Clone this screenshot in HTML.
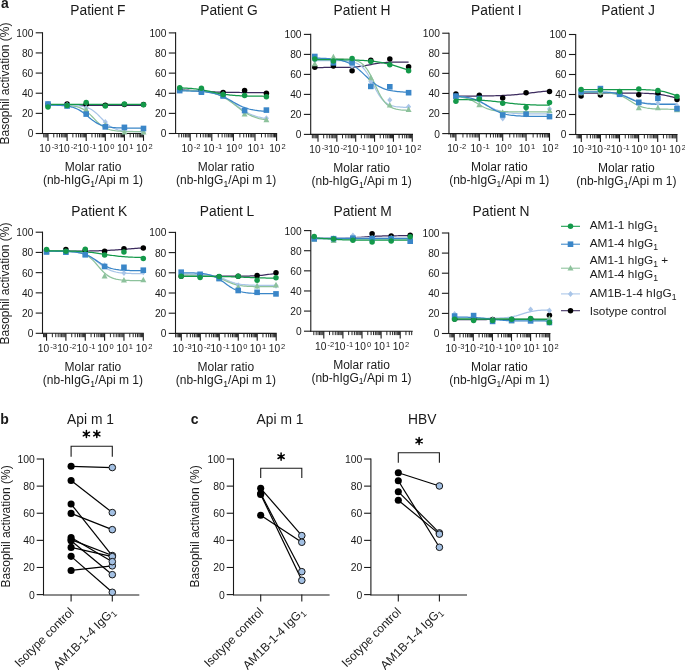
<!DOCTYPE html>
<html><head><meta charset="utf-8"><style>
html,body{margin:0;padding:0;background:#fff;width:685px;height:670px;overflow:hidden;position:relative}
</style></head><body>
<svg width="685" height="670" viewBox="0 0 685 670" font-family='"Liberation Sans", sans-serif' fill="#1a1a1a" style="position:absolute;left:0;top:0;will-change:transform">
<rect width="685" height="670" fill="#ffffff"/>
<text x="0.90" y="7.90" font-size="14" text-anchor="start" font-weight="bold" >a</text>
<line x1="42.50" y1="32.25" x2="42.50" y2="134.05" stroke="#1a1a1a" stroke-width="1.1" />
<line x1="35.70" y1="133.50" x2="42.50" y2="133.50" stroke="#1a1a1a" stroke-width="1.1" />
<text x="33.30" y="137.45" font-size="10.2" text-anchor="end" font-weight="normal" >0</text>
<line x1="35.70" y1="113.36" x2="42.50" y2="113.36" stroke="#1a1a1a" stroke-width="1.1" />
<text x="33.30" y="117.31" font-size="10.2" text-anchor="end" font-weight="normal" >20</text>
<line x1="35.70" y1="93.22" x2="42.50" y2="93.22" stroke="#1a1a1a" stroke-width="1.1" />
<text x="33.30" y="97.17" font-size="10.2" text-anchor="end" font-weight="normal" >40</text>
<line x1="35.70" y1="73.08" x2="42.50" y2="73.08" stroke="#1a1a1a" stroke-width="1.1" />
<text x="33.30" y="77.03" font-size="10.2" text-anchor="end" font-weight="normal" >60</text>
<line x1="35.70" y1="52.94" x2="42.50" y2="52.94" stroke="#1a1a1a" stroke-width="1.1" />
<text x="33.30" y="56.89" font-size="10.2" text-anchor="end" font-weight="normal" >80</text>
<line x1="35.70" y1="32.80" x2="42.50" y2="32.80" stroke="#1a1a1a" stroke-width="1.1" />
<text x="33.30" y="36.75" font-size="10.2" text-anchor="end" font-weight="normal" >100</text>
<line x1="41.95" y1="133.50" x2="144.00" y2="133.50" stroke="#1a1a1a" stroke-width="1.1" />
<line x1="43.76" y1="133.50" x2="43.76" y2="137.40" stroke="#1a1a1a" stroke-width="0.95" />
<line x1="45.04" y1="133.50" x2="45.04" y2="137.40" stroke="#1a1a1a" stroke-width="0.95" />
<line x1="46.15" y1="133.50" x2="46.15" y2="137.40" stroke="#1a1a1a" stroke-width="0.95" />
<line x1="47.13" y1="133.50" x2="47.13" y2="137.40" stroke="#1a1a1a" stroke-width="0.95" />
<line x1="48.00" y1="133.50" x2="48.00" y2="140.90" stroke="#1a1a1a" stroke-width="1.1" />
<line x1="53.75" y1="133.50" x2="53.75" y2="137.40" stroke="#1a1a1a" stroke-width="0.95" />
<line x1="57.11" y1="133.50" x2="57.11" y2="137.40" stroke="#1a1a1a" stroke-width="0.95" />
<line x1="59.50" y1="133.50" x2="59.50" y2="137.40" stroke="#1a1a1a" stroke-width="0.95" />
<line x1="61.35" y1="133.50" x2="61.35" y2="137.40" stroke="#1a1a1a" stroke-width="0.95" />
<line x1="62.86" y1="133.50" x2="62.86" y2="137.40" stroke="#1a1a1a" stroke-width="0.95" />
<line x1="64.14" y1="133.50" x2="64.14" y2="137.40" stroke="#1a1a1a" stroke-width="0.95" />
<line x1="65.25" y1="133.50" x2="65.25" y2="137.40" stroke="#1a1a1a" stroke-width="0.95" />
<line x1="66.23" y1="133.50" x2="66.23" y2="137.40" stroke="#1a1a1a" stroke-width="0.95" />
<line x1="67.10" y1="133.50" x2="67.10" y2="140.90" stroke="#1a1a1a" stroke-width="1.1" />
<line x1="72.85" y1="133.50" x2="72.85" y2="137.40" stroke="#1a1a1a" stroke-width="0.95" />
<line x1="76.21" y1="133.50" x2="76.21" y2="137.40" stroke="#1a1a1a" stroke-width="0.95" />
<line x1="78.60" y1="133.50" x2="78.60" y2="137.40" stroke="#1a1a1a" stroke-width="0.95" />
<line x1="80.45" y1="133.50" x2="80.45" y2="137.40" stroke="#1a1a1a" stroke-width="0.95" />
<line x1="81.96" y1="133.50" x2="81.96" y2="137.40" stroke="#1a1a1a" stroke-width="0.95" />
<line x1="83.24" y1="133.50" x2="83.24" y2="137.40" stroke="#1a1a1a" stroke-width="0.95" />
<line x1="84.35" y1="133.50" x2="84.35" y2="137.40" stroke="#1a1a1a" stroke-width="0.95" />
<line x1="85.33" y1="133.50" x2="85.33" y2="137.40" stroke="#1a1a1a" stroke-width="0.95" />
<line x1="86.20" y1="133.50" x2="86.20" y2="140.90" stroke="#1a1a1a" stroke-width="1.1" />
<line x1="91.95" y1="133.50" x2="91.95" y2="137.40" stroke="#1a1a1a" stroke-width="0.95" />
<line x1="95.31" y1="133.50" x2="95.31" y2="137.40" stroke="#1a1a1a" stroke-width="0.95" />
<line x1="97.70" y1="133.50" x2="97.70" y2="137.40" stroke="#1a1a1a" stroke-width="0.95" />
<line x1="99.55" y1="133.50" x2="99.55" y2="137.40" stroke="#1a1a1a" stroke-width="0.95" />
<line x1="101.06" y1="133.50" x2="101.06" y2="137.40" stroke="#1a1a1a" stroke-width="0.95" />
<line x1="102.34" y1="133.50" x2="102.34" y2="137.40" stroke="#1a1a1a" stroke-width="0.95" />
<line x1="103.45" y1="133.50" x2="103.45" y2="137.40" stroke="#1a1a1a" stroke-width="0.95" />
<line x1="104.43" y1="133.50" x2="104.43" y2="137.40" stroke="#1a1a1a" stroke-width="0.95" />
<line x1="105.30" y1="133.50" x2="105.30" y2="140.90" stroke="#1a1a1a" stroke-width="1.1" />
<line x1="111.05" y1="133.50" x2="111.05" y2="137.40" stroke="#1a1a1a" stroke-width="0.95" />
<line x1="114.41" y1="133.50" x2="114.41" y2="137.40" stroke="#1a1a1a" stroke-width="0.95" />
<line x1="116.80" y1="133.50" x2="116.80" y2="137.40" stroke="#1a1a1a" stroke-width="0.95" />
<line x1="118.65" y1="133.50" x2="118.65" y2="137.40" stroke="#1a1a1a" stroke-width="0.95" />
<line x1="120.16" y1="133.50" x2="120.16" y2="137.40" stroke="#1a1a1a" stroke-width="0.95" />
<line x1="121.44" y1="133.50" x2="121.44" y2="137.40" stroke="#1a1a1a" stroke-width="0.95" />
<line x1="122.55" y1="133.50" x2="122.55" y2="137.40" stroke="#1a1a1a" stroke-width="0.95" />
<line x1="123.53" y1="133.50" x2="123.53" y2="137.40" stroke="#1a1a1a" stroke-width="0.95" />
<line x1="124.40" y1="133.50" x2="124.40" y2="140.90" stroke="#1a1a1a" stroke-width="1.1" />
<line x1="130.15" y1="133.50" x2="130.15" y2="137.40" stroke="#1a1a1a" stroke-width="0.95" />
<line x1="133.51" y1="133.50" x2="133.51" y2="137.40" stroke="#1a1a1a" stroke-width="0.95" />
<line x1="135.90" y1="133.50" x2="135.90" y2="137.40" stroke="#1a1a1a" stroke-width="0.95" />
<line x1="137.75" y1="133.50" x2="137.75" y2="137.40" stroke="#1a1a1a" stroke-width="0.95" />
<line x1="139.26" y1="133.50" x2="139.26" y2="137.40" stroke="#1a1a1a" stroke-width="0.95" />
<line x1="140.54" y1="133.50" x2="140.54" y2="137.40" stroke="#1a1a1a" stroke-width="0.95" />
<line x1="141.65" y1="133.50" x2="141.65" y2="137.40" stroke="#1a1a1a" stroke-width="0.95" />
<line x1="142.63" y1="133.50" x2="142.63" y2="137.40" stroke="#1a1a1a" stroke-width="0.95" />
<line x1="143.50" y1="133.50" x2="143.50" y2="140.90" stroke="#1a1a1a" stroke-width="1.1" />
<text y="152" font-size="10.2" text-anchor="middle" x="48.80">10<tspan font-size="7.5" dx="1.0" dy="-2.9">-3</tspan></text>
<text y="152" font-size="10.2" text-anchor="middle" x="67.90">10<tspan font-size="7.5" dx="1.0" dy="-2.9">-2</tspan></text>
<text y="152" font-size="10.2" text-anchor="middle" x="87.00">10<tspan font-size="7.5" dx="1.0" dy="-2.9">-1</tspan></text>
<text y="152" font-size="10.2" text-anchor="middle" x="106.10">10<tspan font-size="7.5" dx="1.0" dy="-2.9">0</tspan></text>
<text y="152" font-size="10.2" text-anchor="middle" x="125.20">10<tspan font-size="7.5" dx="1.0" dy="-2.9">1</tspan></text>
<text y="152" font-size="10.2" text-anchor="middle" x="144.30">10<tspan font-size="7.5" dx="1.0" dy="-2.9">2</tspan></text>
<text x="93.00" y="171.00" font-size="12.0" text-anchor="middle" font-weight="normal" >Molar ratio</text>
<text x="93.00" y="184.10" font-size="12.0" text-anchor="middle">(nb-hIgG<tspan font-size="8.6" dy="2.6">1</tspan><tspan dy="-2.6">/Api m 1)</tspan></text>
<text x="97.90" y="14.70" font-size="13.8" text-anchor="middle" font-weight="normal" >Patient F</text>
<path d="M48.00,105.41 L49.59,105.41 L51.18,105.41 L52.77,105.41 L54.37,105.41 L55.96,105.41 L57.55,105.41 L59.14,105.41 L60.73,105.41 L62.33,105.41 L63.92,105.41 L65.51,105.41 L67.10,105.41 L68.69,105.41 L70.28,105.41 L71.88,105.41 L73.47,105.41 L75.06,105.41 L76.65,105.41 L78.24,105.41 L79.83,105.41 L81.42,105.41 L83.02,105.41 L84.61,105.41 L86.20,105.41 L87.79,105.41 L89.38,105.41 L90.97,105.41 L92.57,105.41 L94.16,105.41 L95.75,105.41 L97.34,105.41 L98.93,105.41 L100.53,105.41 L102.12,105.41 L103.71,105.41 L105.30,105.41 L106.89,105.41 L108.48,105.41 L110.08,105.41 L111.67,105.41 L113.26,105.41 L114.85,105.41 L116.44,105.41 L118.03,105.41 L119.62,105.41 L121.22,105.41 L122.81,105.41 L124.40,105.41 L125.99,105.41 L127.58,105.41 L129.18,105.41 L130.77,105.41 L132.36,105.41 L133.95,105.41 L135.54,105.41 L137.13,105.41 L138.72,105.41 L140.32,105.41 L141.91,105.41 L143.50,105.41" fill="none" stroke="#3c2b5e" stroke-width="1.25"/>
<path d="M48.00,105.01 L49.59,105.01 L51.18,105.01 L52.77,105.02 L54.37,105.02 L55.96,105.03 L57.55,105.03 L59.14,105.04 L60.73,105.05 L62.33,105.06 L63.92,105.08 L65.51,105.10 L67.10,105.13 L68.69,105.16 L70.28,105.20 L71.88,105.26 L73.47,105.33 L75.06,105.42 L76.65,105.54 L78.24,105.68 L79.83,105.87 L81.42,106.11 L83.02,106.40 L84.61,106.77 L86.20,107.23 L87.79,107.80 L89.38,108.49 L90.97,109.32 L92.57,110.29 L94.16,111.43 L95.75,112.73 L97.34,114.16 L98.93,115.72 L100.53,117.35 L102.12,119.01 L103.71,120.65 L105.30,122.23 L106.89,123.69 L108.48,125.01 L110.08,126.18 L111.67,127.19 L113.26,128.05 L114.85,128.77 L116.44,129.36 L118.03,129.84 L119.62,130.22 L121.22,130.53 L122.81,130.78 L124.40,130.97 L125.99,131.13 L127.58,131.25 L129.18,131.35 L130.77,131.42 L132.36,131.48 L133.95,131.53 L135.54,131.56 L137.13,131.59 L138.72,131.61 L140.32,131.63 L141.91,131.64 L143.50,131.65" fill="none" stroke="#a9c5e8" stroke-width="1.25"/>
<path d="M48.00,105.02 L49.59,105.03 L51.18,105.04 L52.77,105.05 L54.37,105.06 L55.96,105.07 L57.55,105.09 L59.14,105.12 L60.73,105.15 L62.33,105.19 L63.92,105.25 L65.51,105.31 L67.10,105.40 L68.69,105.51 L70.28,105.65 L71.88,105.83 L73.47,106.06 L75.06,106.34 L76.65,106.69 L78.24,107.13 L79.83,107.68 L81.42,108.34 L83.02,109.14 L84.61,110.09 L86.20,111.19 L87.79,112.46 L89.38,113.87 L90.97,115.40 L92.57,117.02 L94.16,118.68 L95.75,120.33 L97.34,121.92 L98.93,123.41 L100.53,124.76 L102.12,125.96 L103.71,127.01 L105.30,127.89 L106.89,128.63 L108.48,129.25 L110.08,129.75 L111.67,130.15 L113.26,130.48 L114.85,130.73 L116.44,130.94 L118.03,131.10 L119.62,131.23 L121.22,131.33 L122.81,131.41 L124.40,131.47 L125.99,131.52 L127.58,131.56 L129.18,131.58 L130.77,131.61 L132.36,131.63 L133.95,131.64 L135.54,131.65 L137.13,131.66 L138.72,131.67 L140.32,131.67 L141.91,131.68 L143.50,131.68" fill="none" stroke="#8dc29c" stroke-width="1.25"/>
<path d="M48.00,105.07 L49.59,105.09 L51.18,105.11 L52.77,105.14 L54.37,105.18 L55.96,105.22 L57.55,105.28 L59.14,105.35 L60.73,105.44 L62.33,105.55 L63.92,105.68 L65.51,105.85 L67.10,106.06 L68.69,106.32 L70.28,106.64 L71.88,107.02 L73.47,107.49 L75.06,108.05 L76.65,108.71 L78.24,109.48 L79.83,110.38 L81.42,111.38 L83.02,112.50 L84.61,113.71 L86.20,114.99 L87.79,116.32 L89.38,117.65 L90.97,118.95 L92.57,120.19 L94.16,121.35 L95.75,122.40 L97.34,123.34 L98.93,124.16 L100.53,124.87 L102.12,125.47 L103.71,125.97 L105.30,126.39 L106.89,126.73 L108.48,127.01 L110.08,127.24 L111.67,127.42 L113.26,127.57 L114.85,127.69 L116.44,127.79 L118.03,127.86 L119.62,127.93 L121.22,127.97 L122.81,128.01 L124.40,128.04 L125.99,128.07 L127.58,128.09 L129.18,128.10 L130.77,128.12 L132.36,128.13 L133.95,128.13 L135.54,128.14 L137.13,128.15 L138.72,128.15 L140.32,128.15 L141.91,128.16 L143.50,128.16" fill="none" stroke="#3a86c8" stroke-width="1.25"/>
<path d="M48.00,104.40 L49.59,104.40 L51.18,104.40 L52.77,104.40 L54.37,104.40 L55.96,104.40 L57.55,104.40 L59.14,104.40 L60.73,104.40 L62.33,104.40 L63.92,104.40 L65.51,104.40 L67.10,104.40 L68.69,104.40 L70.28,104.40 L71.88,104.40 L73.47,104.40 L75.06,104.40 L76.65,104.40 L78.24,104.40 L79.83,104.40 L81.42,104.40 L83.02,104.40 L84.61,104.40 L86.20,104.40 L87.79,104.40 L89.38,104.40 L90.97,104.40 L92.57,104.40 L94.16,104.40 L95.75,104.40 L97.34,104.40 L98.93,104.40 L100.53,104.40 L102.12,104.40 L103.71,104.40 L105.30,104.40 L106.89,104.40 L108.48,104.40 L110.08,104.40 L111.67,104.40 L113.26,104.40 L114.85,104.40 L116.44,104.40 L118.03,104.40 L119.62,104.40 L121.22,104.40 L122.81,104.40 L124.40,104.40 L125.99,104.40 L127.58,104.40 L129.18,104.40 L130.77,104.40 L132.36,104.40 L133.95,104.40 L135.54,104.40 L137.13,104.40 L138.72,104.40 L140.32,104.40 L141.91,104.40 L143.50,104.40" fill="none" stroke="#14994a" stroke-width="1.25"/>
<circle cx="48.00" cy="104.50" r="2.75" fill="#000000"/>
<circle cx="67.10" cy="104.00" r="2.75" fill="#000000"/>
<circle cx="86.20" cy="104.20" r="2.75" fill="#000000"/>
<circle cx="105.30" cy="105.31" r="2.75" fill="#000000"/>
<circle cx="124.40" cy="104.50" r="2.75" fill="#000000"/>
<circle cx="143.50" cy="104.50" r="2.75" fill="#000000"/>
<polygon points="48.00,101.50 50.55,104.50 48.00,107.50 45.45,104.50" fill="#a9c5e8"/>
<polygon points="67.10,102.00 69.65,105.00 67.10,108.00 64.55,105.00" fill="#a9c5e8"/>
<polygon points="86.20,105.02 88.75,108.02 86.20,111.02 83.65,108.02" fill="#a9c5e8"/>
<polygon points="105.30,119.12 107.85,122.12 105.30,125.12 102.75,122.12" fill="#a9c5e8"/>
<polygon points="124.40,127.18 126.95,130.18 124.40,133.18 121.85,130.18" fill="#a9c5e8"/>
<polygon points="143.50,129.19 146.05,132.19 143.50,135.19 140.95,132.19" fill="#a9c5e8"/>
<polygon points="48.00,101.85 51.00,107.40 45.00,107.40" fill="#8dc29c"/>
<polygon points="67.10,102.36 70.10,107.91 64.10,107.91" fill="#8dc29c"/>
<polygon points="86.20,106.49 89.20,112.04 83.20,112.04" fill="#8dc29c"/>
<polygon points="105.30,121.99 108.30,127.54 102.30,127.54" fill="#8dc29c"/>
<polygon points="124.40,128.84 127.40,134.39 121.40,134.39" fill="#8dc29c"/>
<polygon points="143.50,129.04 146.50,134.59 140.50,134.59" fill="#8dc29c"/>
<rect x="45.20" y="101.20" width="5.60" height="5.60" fill="#3a86c8"/>
<rect x="64.30" y="103.21" width="5.60" height="5.60" fill="#3a86c8"/>
<rect x="83.40" y="111.27" width="5.60" height="5.60" fill="#3a86c8"/>
<rect x="102.50" y="124.06" width="5.60" height="5.60" fill="#3a86c8"/>
<rect x="121.60" y="124.56" width="5.60" height="5.60" fill="#3a86c8"/>
<rect x="140.70" y="125.67" width="5.60" height="5.60" fill="#3a86c8"/>
<circle cx="48.00" cy="107.02" r="2.75" fill="#14994a"/>
<circle cx="67.10" cy="105.61" r="2.75" fill="#14994a"/>
<circle cx="86.20" cy="102.39" r="2.75" fill="#14994a"/>
<circle cx="105.30" cy="106.01" r="2.75" fill="#14994a"/>
<circle cx="124.40" cy="104.00" r="2.75" fill="#14994a"/>
<circle cx="143.50" cy="104.80" r="2.75" fill="#14994a"/>
<line x1="175.60" y1="32.35" x2="175.60" y2="134.05" stroke="#1a1a1a" stroke-width="1.1" />
<line x1="168.80" y1="133.50" x2="175.60" y2="133.50" stroke="#1a1a1a" stroke-width="1.1" />
<text x="166.40" y="137.45" font-size="10.2" text-anchor="end" font-weight="normal" >0</text>
<line x1="168.80" y1="113.38" x2="175.60" y2="113.38" stroke="#1a1a1a" stroke-width="1.1" />
<text x="166.40" y="117.33" font-size="10.2" text-anchor="end" font-weight="normal" >20</text>
<line x1="168.80" y1="93.26" x2="175.60" y2="93.26" stroke="#1a1a1a" stroke-width="1.1" />
<text x="166.40" y="97.21" font-size="10.2" text-anchor="end" font-weight="normal" >40</text>
<line x1="168.80" y1="73.14" x2="175.60" y2="73.14" stroke="#1a1a1a" stroke-width="1.1" />
<text x="166.40" y="77.09" font-size="10.2" text-anchor="end" font-weight="normal" >60</text>
<line x1="168.80" y1="53.02" x2="175.60" y2="53.02" stroke="#1a1a1a" stroke-width="1.1" />
<text x="166.40" y="56.97" font-size="10.2" text-anchor="end" font-weight="normal" >80</text>
<line x1="168.80" y1="32.90" x2="175.60" y2="32.90" stroke="#1a1a1a" stroke-width="1.1" />
<text x="166.40" y="36.85" font-size="10.2" text-anchor="end" font-weight="normal" >100</text>
<line x1="175.05" y1="133.50" x2="277.10" y2="133.50" stroke="#1a1a1a" stroke-width="1.1" />
<line x1="178.91" y1="133.50" x2="178.91" y2="137.40" stroke="#1a1a1a" stroke-width="0.95" />
<line x1="181.60" y1="133.50" x2="181.60" y2="137.40" stroke="#1a1a1a" stroke-width="0.95" />
<line x1="183.70" y1="133.50" x2="183.70" y2="137.40" stroke="#1a1a1a" stroke-width="0.95" />
<line x1="185.41" y1="133.50" x2="185.41" y2="137.40" stroke="#1a1a1a" stroke-width="0.95" />
<line x1="186.85" y1="133.50" x2="186.85" y2="137.40" stroke="#1a1a1a" stroke-width="0.95" />
<line x1="188.11" y1="133.50" x2="188.11" y2="137.40" stroke="#1a1a1a" stroke-width="0.95" />
<line x1="189.21" y1="133.50" x2="189.21" y2="137.40" stroke="#1a1a1a" stroke-width="0.95" />
<line x1="190.20" y1="133.50" x2="190.20" y2="140.90" stroke="#1a1a1a" stroke-width="1.1" />
<line x1="196.70" y1="133.50" x2="196.70" y2="137.40" stroke="#1a1a1a" stroke-width="0.95" />
<line x1="200.51" y1="133.50" x2="200.51" y2="137.40" stroke="#1a1a1a" stroke-width="0.95" />
<line x1="203.20" y1="133.50" x2="203.20" y2="137.40" stroke="#1a1a1a" stroke-width="0.95" />
<line x1="205.30" y1="133.50" x2="205.30" y2="137.40" stroke="#1a1a1a" stroke-width="0.95" />
<line x1="207.01" y1="133.50" x2="207.01" y2="137.40" stroke="#1a1a1a" stroke-width="0.95" />
<line x1="208.45" y1="133.50" x2="208.45" y2="137.40" stroke="#1a1a1a" stroke-width="0.95" />
<line x1="209.71" y1="133.50" x2="209.71" y2="137.40" stroke="#1a1a1a" stroke-width="0.95" />
<line x1="210.81" y1="133.50" x2="210.81" y2="137.40" stroke="#1a1a1a" stroke-width="0.95" />
<line x1="211.80" y1="133.50" x2="211.80" y2="140.90" stroke="#1a1a1a" stroke-width="1.1" />
<line x1="218.30" y1="133.50" x2="218.30" y2="137.40" stroke="#1a1a1a" stroke-width="0.95" />
<line x1="222.11" y1="133.50" x2="222.11" y2="137.40" stroke="#1a1a1a" stroke-width="0.95" />
<line x1="224.80" y1="133.50" x2="224.80" y2="137.40" stroke="#1a1a1a" stroke-width="0.95" />
<line x1="226.90" y1="133.50" x2="226.90" y2="137.40" stroke="#1a1a1a" stroke-width="0.95" />
<line x1="228.61" y1="133.50" x2="228.61" y2="137.40" stroke="#1a1a1a" stroke-width="0.95" />
<line x1="230.05" y1="133.50" x2="230.05" y2="137.40" stroke="#1a1a1a" stroke-width="0.95" />
<line x1="231.31" y1="133.50" x2="231.31" y2="137.40" stroke="#1a1a1a" stroke-width="0.95" />
<line x1="232.41" y1="133.50" x2="232.41" y2="137.40" stroke="#1a1a1a" stroke-width="0.95" />
<line x1="233.40" y1="133.50" x2="233.40" y2="140.90" stroke="#1a1a1a" stroke-width="1.1" />
<line x1="239.90" y1="133.50" x2="239.90" y2="137.40" stroke="#1a1a1a" stroke-width="0.95" />
<line x1="243.71" y1="133.50" x2="243.71" y2="137.40" stroke="#1a1a1a" stroke-width="0.95" />
<line x1="246.40" y1="133.50" x2="246.40" y2="137.40" stroke="#1a1a1a" stroke-width="0.95" />
<line x1="248.50" y1="133.50" x2="248.50" y2="137.40" stroke="#1a1a1a" stroke-width="0.95" />
<line x1="250.21" y1="133.50" x2="250.21" y2="137.40" stroke="#1a1a1a" stroke-width="0.95" />
<line x1="251.65" y1="133.50" x2="251.65" y2="137.40" stroke="#1a1a1a" stroke-width="0.95" />
<line x1="252.91" y1="133.50" x2="252.91" y2="137.40" stroke="#1a1a1a" stroke-width="0.95" />
<line x1="254.01" y1="133.50" x2="254.01" y2="137.40" stroke="#1a1a1a" stroke-width="0.95" />
<line x1="255.00" y1="133.50" x2="255.00" y2="140.90" stroke="#1a1a1a" stroke-width="1.1" />
<line x1="261.50" y1="133.50" x2="261.50" y2="137.40" stroke="#1a1a1a" stroke-width="0.95" />
<line x1="265.31" y1="133.50" x2="265.31" y2="137.40" stroke="#1a1a1a" stroke-width="0.95" />
<line x1="268.00" y1="133.50" x2="268.00" y2="137.40" stroke="#1a1a1a" stroke-width="0.95" />
<line x1="270.10" y1="133.50" x2="270.10" y2="137.40" stroke="#1a1a1a" stroke-width="0.95" />
<line x1="271.81" y1="133.50" x2="271.81" y2="137.40" stroke="#1a1a1a" stroke-width="0.95" />
<line x1="273.25" y1="133.50" x2="273.25" y2="137.40" stroke="#1a1a1a" stroke-width="0.95" />
<line x1="274.51" y1="133.50" x2="274.51" y2="137.40" stroke="#1a1a1a" stroke-width="0.95" />
<line x1="275.61" y1="133.50" x2="275.61" y2="137.40" stroke="#1a1a1a" stroke-width="0.95" />
<line x1="276.60" y1="133.50" x2="276.60" y2="140.90" stroke="#1a1a1a" stroke-width="1.1" />
<text y="152" font-size="10.2" text-anchor="middle" x="191.00">10<tspan font-size="7.5" dx="1.0" dy="-2.9">-2</tspan></text>
<text y="152" font-size="10.2" text-anchor="middle" x="212.60">10<tspan font-size="7.5" dx="1.0" dy="-2.9">-1</tspan></text>
<text y="152" font-size="10.2" text-anchor="middle" x="234.20">10<tspan font-size="7.5" dx="1.0" dy="-2.9">0</tspan></text>
<text y="152" font-size="10.2" text-anchor="middle" x="255.80">10<tspan font-size="7.5" dx="1.0" dy="-2.9">1</tspan></text>
<text y="152" font-size="10.2" text-anchor="middle" x="277.40">10<tspan font-size="7.5" dx="1.0" dy="-2.9">2</tspan></text>
<text x="226.10" y="171.00" font-size="12.0" text-anchor="middle" font-weight="normal" >Molar ratio</text>
<text x="226.10" y="184.10" font-size="12.0" text-anchor="middle">(nb-hIgG<tspan font-size="8.6" dy="2.6">1</tspan><tspan dy="-2.6">/Api m 1)</tspan></text>
<text x="229.00" y="14.70" font-size="13.8" text-anchor="middle" font-weight="normal" >Patient G</text>
<path d="M179.70,89.66 L181.14,89.74 L182.59,89.83 L184.03,89.92 L185.48,90.01 L186.92,90.11 L188.37,90.21 L189.81,90.31 L191.26,90.42 L192.70,90.53 L194.15,90.64 L195.59,90.75 L197.04,90.85 L198.48,90.96 L199.93,91.07 L201.38,91.17 L202.82,91.28 L204.26,91.37 L205.71,91.47 L207.15,91.56 L208.60,91.64 L210.04,91.72 L211.49,91.80 L212.93,91.87 L214.38,91.93 L215.82,92.00 L217.27,92.05 L218.71,92.10 L220.16,92.15 L221.60,92.20 L223.05,92.24 L224.49,92.27 L225.94,92.31 L227.38,92.34 L228.83,92.36 L230.27,92.39 L231.72,92.41 L233.16,92.43 L234.61,92.45 L236.05,92.46 L237.50,92.48 L238.94,92.49 L240.39,92.50 L241.83,92.51 L243.28,92.52 L244.72,92.53 L246.17,92.54 L247.61,92.54 L249.06,92.55 L250.50,92.56 L251.95,92.56 L253.39,92.56 L254.84,92.57 L256.28,92.57 L257.73,92.58 L259.17,92.58 L260.62,92.58 L262.06,92.58 L263.51,92.58 L264.95,92.59 L266.40,92.59" fill="none" stroke="#3c2b5e" stroke-width="1.25"/>
<path d="M179.70,90.41 L181.14,90.42 L182.59,90.44 L184.03,90.46 L185.48,90.49 L186.92,90.52 L188.37,90.55 L189.81,90.59 L191.26,90.63 L192.70,90.68 L194.15,90.74 L195.59,90.81 L197.04,90.89 L198.48,90.98 L199.93,91.08 L201.38,91.20 L202.82,91.33 L204.26,91.49 L205.71,91.66 L207.15,91.86 L208.60,92.09 L210.04,92.35 L211.49,92.64 L212.93,92.97 L214.38,93.34 L215.82,93.76 L217.27,94.23 L218.71,94.75 L220.16,95.32 L221.60,95.95 L223.05,96.64 L224.49,97.39 L225.94,98.20 L227.38,99.06 L228.83,99.98 L230.27,100.94 L231.72,101.94 L233.16,102.97 L234.61,104.03 L236.05,105.09 L237.50,106.15 L238.94,107.21 L240.39,108.24 L241.83,109.24 L243.28,110.19 L244.72,111.11 L246.17,111.96 L247.61,112.77 L249.06,113.51 L250.50,114.20 L251.95,114.82 L253.39,115.39 L254.84,115.91 L256.28,116.37 L257.73,116.79 L259.17,117.15 L260.62,117.48 L262.06,117.77 L263.51,118.03 L264.95,118.25 L266.40,118.45" fill="none" stroke="#a9c5e8" stroke-width="1.25"/>
<path d="M179.70,90.41 L181.14,90.43 L182.59,90.45 L184.03,90.47 L185.48,90.50 L186.92,90.53 L188.37,90.56 L189.81,90.60 L191.26,90.65 L192.70,90.70 L194.15,90.76 L195.59,90.84 L197.04,90.92 L198.48,91.01 L199.93,91.12 L201.38,91.24 L202.82,91.38 L204.26,91.55 L205.71,91.73 L207.15,91.94 L208.60,92.18 L210.04,92.45 L211.49,92.76 L212.93,93.11 L214.38,93.50 L215.82,93.94 L217.27,94.43 L218.71,94.97 L220.16,95.58 L221.60,96.24 L223.05,96.97 L224.49,97.75 L225.94,98.60 L227.38,99.51 L228.83,100.47 L230.27,101.48 L231.72,102.53 L233.16,103.62 L234.61,104.72 L236.05,105.84 L237.50,106.96 L238.94,108.07 L240.39,109.15 L241.83,110.20 L243.28,111.21 L244.72,112.16 L246.17,113.07 L247.61,113.91 L249.06,114.69 L250.50,115.41 L251.95,116.07 L253.39,116.67 L254.84,117.21 L256.28,117.70 L257.73,118.13 L259.17,118.52 L260.62,118.86 L262.06,119.17 L263.51,119.44 L264.95,119.68 L266.40,119.88" fill="none" stroke="#8dc29c" stroke-width="1.25"/>
<path d="M179.70,90.87 L181.14,90.88 L182.59,90.89 L184.03,90.91 L185.48,90.93 L186.92,90.95 L188.37,90.97 L189.81,91.00 L191.26,91.04 L192.70,91.07 L194.15,91.12 L195.59,91.18 L197.04,91.24 L198.48,91.31 L199.93,91.40 L201.38,91.50 L202.82,91.61 L204.26,91.75 L205.71,91.90 L207.15,92.08 L208.60,92.29 L210.04,92.52 L211.49,92.79 L212.93,93.10 L214.38,93.44 L215.82,93.83 L217.27,94.27 L218.71,94.75 L220.16,95.29 L221.60,95.88 L223.05,96.51 L224.49,97.20 L225.94,97.92 L227.38,98.69 L228.83,99.49 L230.27,100.31 L231.72,101.14 L233.16,101.97 L234.61,102.80 L236.05,103.60 L237.50,104.38 L238.94,105.13 L240.39,105.83 L241.83,106.48 L243.28,107.09 L244.72,107.65 L246.17,108.15 L247.61,108.60 L249.06,109.01 L250.50,109.37 L251.95,109.69 L253.39,109.98 L254.84,110.23 L256.28,110.44 L257.73,110.63 L259.17,110.79 L260.62,110.94 L262.06,111.06 L263.51,111.16 L264.95,111.25 L266.40,111.33" fill="none" stroke="#3a86c8" stroke-width="1.25"/>
<path d="M179.70,87.83 L181.14,87.88 L182.59,87.94 L184.03,88.01 L185.48,88.08 L186.92,88.16 L188.37,88.26 L189.81,88.36 L191.26,88.48 L192.70,88.62 L194.15,88.76 L195.59,88.93 L197.04,89.11 L198.48,89.31 L199.93,89.53 L201.38,89.76 L202.82,90.01 L204.26,90.28 L205.71,90.56 L207.15,90.85 L208.60,91.16 L210.04,91.47 L211.49,91.79 L212.93,92.11 L214.38,92.42 L215.82,92.73 L217.27,93.03 L218.71,93.32 L220.16,93.60 L221.60,93.86 L223.05,94.11 L224.49,94.34 L225.94,94.55 L227.38,94.74 L228.83,94.92 L230.27,95.08 L231.72,95.22 L233.16,95.35 L234.61,95.47 L236.05,95.57 L237.50,95.66 L238.94,95.74 L240.39,95.81 L241.83,95.88 L243.28,95.93 L244.72,95.98 L246.17,96.02 L247.61,96.06 L249.06,96.09 L250.50,96.12 L251.95,96.14 L253.39,96.16 L254.84,96.18 L256.28,96.20 L257.73,96.21 L259.17,96.22 L260.62,96.23 L262.06,96.24 L263.51,96.25 L264.95,96.26 L266.40,96.26" fill="none" stroke="#14994a" stroke-width="1.25"/>
<circle cx="179.70" cy="89.30" r="2.75" fill="#000000"/>
<circle cx="201.40" cy="90.30" r="2.75" fill="#000000"/>
<circle cx="223.10" cy="92.50" r="2.75" fill="#000000"/>
<circle cx="244.60" cy="90.40" r="2.75" fill="#000000"/>
<circle cx="266.40" cy="93.30" r="2.75" fill="#000000"/>
<polygon points="179.70,87.30 182.25,90.30 179.70,93.30 177.15,90.30" fill="#a9c5e8"/>
<polygon points="201.40,88.30 203.95,91.30 201.40,94.30 198.85,91.30" fill="#a9c5e8"/>
<polygon points="223.10,91.30 225.65,94.30 223.10,97.30 220.55,94.30" fill="#a9c5e8"/>
<polygon points="244.60,109.80 247.15,112.80 244.60,115.80 242.05,112.80" fill="#a9c5e8"/>
<polygon points="266.40,115.30 268.95,118.30 266.40,121.30 263.85,118.30" fill="#a9c5e8"/>
<polygon points="179.70,86.15 182.70,91.70 176.70,91.70" fill="#8dc29c"/>
<polygon points="201.40,88.15 204.40,93.70 198.40,93.70" fill="#8dc29c"/>
<polygon points="223.10,92.15 226.10,97.70 220.10,97.70" fill="#8dc29c"/>
<polygon points="244.60,111.05 247.60,116.60 241.60,116.60" fill="#8dc29c"/>
<polygon points="266.40,116.65 269.40,122.20 263.40,122.20" fill="#8dc29c"/>
<rect x="176.90" y="87.80" width="5.60" height="5.60" fill="#3a86c8"/>
<rect x="198.60" y="89.40" width="5.60" height="5.60" fill="#3a86c8"/>
<rect x="220.30" y="93.20" width="5.60" height="5.60" fill="#3a86c8"/>
<rect x="241.80" y="107.70" width="5.60" height="5.60" fill="#3a86c8"/>
<rect x="263.60" y="107.30" width="5.60" height="5.60" fill="#3a86c8"/>
<circle cx="179.70" cy="87.80" r="2.75" fill="#14994a"/>
<circle cx="201.40" cy="88.30" r="2.75" fill="#14994a"/>
<circle cx="223.10" cy="94.40" r="2.75" fill="#14994a"/>
<circle cx="244.60" cy="95.40" r="2.75" fill="#14994a"/>
<circle cx="266.40" cy="96.80" r="2.75" fill="#14994a"/>
<line x1="310.70" y1="33.85" x2="310.70" y2="134.95" stroke="#1a1a1a" stroke-width="1.1" />
<line x1="303.90" y1="134.40" x2="310.70" y2="134.40" stroke="#1a1a1a" stroke-width="1.1" />
<text x="301.50" y="138.35" font-size="10.2" text-anchor="end" font-weight="normal" >0</text>
<line x1="303.90" y1="114.40" x2="310.70" y2="114.40" stroke="#1a1a1a" stroke-width="1.1" />
<text x="301.50" y="118.35" font-size="10.2" text-anchor="end" font-weight="normal" >20</text>
<line x1="303.90" y1="94.40" x2="310.70" y2="94.40" stroke="#1a1a1a" stroke-width="1.1" />
<text x="301.50" y="98.35" font-size="10.2" text-anchor="end" font-weight="normal" >40</text>
<line x1="303.90" y1="74.40" x2="310.70" y2="74.40" stroke="#1a1a1a" stroke-width="1.1" />
<text x="301.50" y="78.35" font-size="10.2" text-anchor="end" font-weight="normal" >60</text>
<line x1="303.90" y1="54.40" x2="310.70" y2="54.40" stroke="#1a1a1a" stroke-width="1.1" />
<text x="301.50" y="58.35" font-size="10.2" text-anchor="end" font-weight="normal" >80</text>
<line x1="303.90" y1="34.40" x2="310.70" y2="34.40" stroke="#1a1a1a" stroke-width="1.1" />
<text x="301.50" y="38.35" font-size="10.2" text-anchor="end" font-weight="normal" >100</text>
<line x1="310.15" y1="134.40" x2="413.00" y2="134.40" stroke="#1a1a1a" stroke-width="1.1" />
<line x1="312.33" y1="134.40" x2="312.33" y2="138.30" stroke="#1a1a1a" stroke-width="0.95" />
<line x1="313.82" y1="134.40" x2="313.82" y2="138.30" stroke="#1a1a1a" stroke-width="0.95" />
<line x1="315.08" y1="134.40" x2="315.08" y2="138.30" stroke="#1a1a1a" stroke-width="0.95" />
<line x1="316.17" y1="134.40" x2="316.17" y2="138.30" stroke="#1a1a1a" stroke-width="0.95" />
<line x1="317.14" y1="134.40" x2="317.14" y2="138.30" stroke="#1a1a1a" stroke-width="0.95" />
<line x1="318.00" y1="134.40" x2="318.00" y2="141.80" stroke="#1a1a1a" stroke-width="1.1" />
<line x1="323.67" y1="134.40" x2="323.67" y2="138.30" stroke="#1a1a1a" stroke-width="0.95" />
<line x1="326.99" y1="134.40" x2="326.99" y2="138.30" stroke="#1a1a1a" stroke-width="0.95" />
<line x1="329.35" y1="134.40" x2="329.35" y2="138.30" stroke="#1a1a1a" stroke-width="0.95" />
<line x1="331.18" y1="134.40" x2="331.18" y2="138.30" stroke="#1a1a1a" stroke-width="0.95" />
<line x1="332.67" y1="134.40" x2="332.67" y2="138.30" stroke="#1a1a1a" stroke-width="0.95" />
<line x1="333.93" y1="134.40" x2="333.93" y2="138.30" stroke="#1a1a1a" stroke-width="0.95" />
<line x1="335.02" y1="134.40" x2="335.02" y2="138.30" stroke="#1a1a1a" stroke-width="0.95" />
<line x1="335.99" y1="134.40" x2="335.99" y2="138.30" stroke="#1a1a1a" stroke-width="0.95" />
<line x1="336.85" y1="134.40" x2="336.85" y2="141.80" stroke="#1a1a1a" stroke-width="1.1" />
<line x1="342.52" y1="134.40" x2="342.52" y2="138.30" stroke="#1a1a1a" stroke-width="0.95" />
<line x1="345.84" y1="134.40" x2="345.84" y2="138.30" stroke="#1a1a1a" stroke-width="0.95" />
<line x1="348.20" y1="134.40" x2="348.20" y2="138.30" stroke="#1a1a1a" stroke-width="0.95" />
<line x1="350.03" y1="134.40" x2="350.03" y2="138.30" stroke="#1a1a1a" stroke-width="0.95" />
<line x1="351.52" y1="134.40" x2="351.52" y2="138.30" stroke="#1a1a1a" stroke-width="0.95" />
<line x1="352.78" y1="134.40" x2="352.78" y2="138.30" stroke="#1a1a1a" stroke-width="0.95" />
<line x1="353.87" y1="134.40" x2="353.87" y2="138.30" stroke="#1a1a1a" stroke-width="0.95" />
<line x1="354.84" y1="134.40" x2="354.84" y2="138.30" stroke="#1a1a1a" stroke-width="0.95" />
<line x1="355.70" y1="134.40" x2="355.70" y2="141.80" stroke="#1a1a1a" stroke-width="1.1" />
<line x1="361.37" y1="134.40" x2="361.37" y2="138.30" stroke="#1a1a1a" stroke-width="0.95" />
<line x1="364.69" y1="134.40" x2="364.69" y2="138.30" stroke="#1a1a1a" stroke-width="0.95" />
<line x1="367.05" y1="134.40" x2="367.05" y2="138.30" stroke="#1a1a1a" stroke-width="0.95" />
<line x1="368.88" y1="134.40" x2="368.88" y2="138.30" stroke="#1a1a1a" stroke-width="0.95" />
<line x1="370.37" y1="134.40" x2="370.37" y2="138.30" stroke="#1a1a1a" stroke-width="0.95" />
<line x1="371.63" y1="134.40" x2="371.63" y2="138.30" stroke="#1a1a1a" stroke-width="0.95" />
<line x1="372.72" y1="134.40" x2="372.72" y2="138.30" stroke="#1a1a1a" stroke-width="0.95" />
<line x1="373.69" y1="134.40" x2="373.69" y2="138.30" stroke="#1a1a1a" stroke-width="0.95" />
<line x1="374.55" y1="134.40" x2="374.55" y2="141.80" stroke="#1a1a1a" stroke-width="1.1" />
<line x1="380.22" y1="134.40" x2="380.22" y2="138.30" stroke="#1a1a1a" stroke-width="0.95" />
<line x1="383.54" y1="134.40" x2="383.54" y2="138.30" stroke="#1a1a1a" stroke-width="0.95" />
<line x1="385.90" y1="134.40" x2="385.90" y2="138.30" stroke="#1a1a1a" stroke-width="0.95" />
<line x1="387.73" y1="134.40" x2="387.73" y2="138.30" stroke="#1a1a1a" stroke-width="0.95" />
<line x1="389.22" y1="134.40" x2="389.22" y2="138.30" stroke="#1a1a1a" stroke-width="0.95" />
<line x1="390.48" y1="134.40" x2="390.48" y2="138.30" stroke="#1a1a1a" stroke-width="0.95" />
<line x1="391.57" y1="134.40" x2="391.57" y2="138.30" stroke="#1a1a1a" stroke-width="0.95" />
<line x1="392.54" y1="134.40" x2="392.54" y2="138.30" stroke="#1a1a1a" stroke-width="0.95" />
<line x1="393.40" y1="134.40" x2="393.40" y2="141.80" stroke="#1a1a1a" stroke-width="1.1" />
<line x1="399.07" y1="134.40" x2="399.07" y2="138.30" stroke="#1a1a1a" stroke-width="0.95" />
<line x1="402.39" y1="134.40" x2="402.39" y2="138.30" stroke="#1a1a1a" stroke-width="0.95" />
<line x1="404.75" y1="134.40" x2="404.75" y2="138.30" stroke="#1a1a1a" stroke-width="0.95" />
<line x1="406.58" y1="134.40" x2="406.58" y2="138.30" stroke="#1a1a1a" stroke-width="0.95" />
<line x1="408.07" y1="134.40" x2="408.07" y2="138.30" stroke="#1a1a1a" stroke-width="0.95" />
<line x1="409.33" y1="134.40" x2="409.33" y2="138.30" stroke="#1a1a1a" stroke-width="0.95" />
<line x1="410.42" y1="134.40" x2="410.42" y2="138.30" stroke="#1a1a1a" stroke-width="0.95" />
<line x1="411.39" y1="134.40" x2="411.39" y2="138.30" stroke="#1a1a1a" stroke-width="0.95" />
<line x1="412.25" y1="134.40" x2="412.25" y2="141.80" stroke="#1a1a1a" stroke-width="1.1" />
<text y="153" font-size="10.2" text-anchor="middle" x="318.80">10<tspan font-size="7.5" dx="1.0" dy="-2.9">-3</tspan></text>
<text y="153" font-size="10.2" text-anchor="middle" x="337.65">10<tspan font-size="7.5" dx="1.0" dy="-2.9">-2</tspan></text>
<text y="153" font-size="10.2" text-anchor="middle" x="356.50">10<tspan font-size="7.5" dx="1.0" dy="-2.9">-1</tspan></text>
<text y="153" font-size="10.2" text-anchor="middle" x="375.35">10<tspan font-size="7.5" dx="1.0" dy="-2.9">0</tspan></text>
<text y="153" font-size="10.2" text-anchor="middle" x="394.20">10<tspan font-size="7.5" dx="1.0" dy="-2.9">1</tspan></text>
<text y="153" font-size="10.2" text-anchor="middle" x="413.05">10<tspan font-size="7.5" dx="1.0" dy="-2.9">2</tspan></text>
<text x="361.60" y="171.90" font-size="12.0" text-anchor="middle" font-weight="normal" >Molar ratio</text>
<text x="361.60" y="185.00" font-size="12.0" text-anchor="middle">(nb-hIgG<tspan font-size="8.6" dy="2.6">1</tspan><tspan dy="-2.6">/Api m 1)</tspan></text>
<text x="362.00" y="14.70" font-size="13.8" text-anchor="middle" font-weight="normal" >Patient H</text>
<path d="M314.80,67.50 L316.36,67.50 L317.93,67.50 L319.49,67.50 L321.05,67.50 L322.62,67.50 L324.18,67.49 L325.74,67.49 L327.31,67.49 L328.87,67.49 L330.43,67.49 L332.00,67.48 L333.56,67.48 L335.12,67.47 L336.69,67.46 L338.25,67.45 L339.81,67.44 L341.38,67.43 L342.94,67.41 L344.50,67.38 L346.07,67.35 L347.63,67.31 L349.19,67.27 L350.76,67.21 L352.32,67.14 L353.88,67.05 L355.45,66.94 L357.01,66.81 L358.57,66.66 L360.14,66.48 L361.70,66.27 L363.26,66.03 L364.83,65.77 L366.39,65.48 L367.95,65.17 L369.52,64.85 L371.08,64.53 L372.64,64.21 L374.21,63.91 L375.77,63.63 L377.33,63.37 L378.90,63.15 L380.46,62.95 L382.02,62.78 L383.59,62.63 L385.15,62.51 L386.71,62.41 L388.28,62.33 L389.84,62.27 L391.40,62.21 L392.97,62.17 L394.53,62.14 L396.09,62.11 L397.66,62.09 L399.22,62.07 L400.78,62.05 L402.35,62.04 L403.91,62.03 L405.47,62.03 L407.04,62.02 L408.60,62.02" fill="none" stroke="#3c2b5e" stroke-width="1.25"/>
<path d="M314.80,60.50 L316.36,60.50 L317.93,60.50 L319.49,60.51 L321.05,60.51 L322.62,60.51 L324.18,60.51 L325.74,60.52 L327.31,60.52 L328.87,60.53 L330.43,60.53 L332.00,60.54 L333.56,60.56 L335.12,60.57 L336.69,60.60 L338.25,60.63 L339.81,60.67 L341.38,60.72 L342.94,60.78 L344.50,60.87 L346.07,60.98 L347.63,61.12 L349.19,61.31 L350.76,61.55 L352.32,61.86 L353.88,62.25 L355.45,62.76 L357.01,63.41 L358.57,64.22 L360.14,65.24 L361.70,66.50 L363.26,68.04 L364.83,69.88 L366.39,72.03 L367.95,74.50 L369.52,77.24 L371.08,80.20 L372.64,83.29 L374.21,86.40 L375.77,89.43 L377.33,92.28 L378.90,94.88 L380.46,97.18 L382.02,99.16 L383.59,100.83 L385.15,102.21 L386.71,103.34 L388.28,104.24 L389.84,104.96 L391.40,105.53 L392.97,105.97 L394.53,106.32 L396.09,106.59 L397.66,106.80 L399.22,106.96 L400.78,107.09 L402.35,107.18 L403.91,107.26 L405.47,107.31 L407.04,107.36 L408.60,107.39" fill="none" stroke="#a9c5e8" stroke-width="1.25"/>
<path d="M314.80,58.50 L316.36,58.50 L317.93,58.50 L319.49,58.50 L321.05,58.51 L322.62,58.51 L324.18,58.51 L325.74,58.51 L327.31,58.52 L328.87,58.52 L330.43,58.53 L332.00,58.53 L333.56,58.55 L335.12,58.56 L336.69,58.58 L338.25,58.60 L339.81,58.63 L341.38,58.67 L342.94,58.72 L344.50,58.79 L346.07,58.88 L347.63,58.99 L349.19,59.14 L350.76,59.33 L352.32,59.58 L353.88,59.90 L355.45,60.31 L357.01,60.83 L358.57,61.50 L360.14,62.35 L361.70,63.41 L363.26,64.72 L364.83,66.33 L366.39,68.27 L367.95,70.56 L369.52,73.19 L371.08,76.14 L372.64,79.36 L374.21,82.75 L375.77,86.20 L377.33,89.59 L378.90,92.81 L380.46,95.77 L382.02,98.41 L383.59,100.70 L385.15,102.64 L386.71,104.25 L388.28,105.57 L389.84,106.64 L391.40,107.49 L392.97,108.16 L394.53,108.69 L396.09,109.10 L397.66,109.42 L399.22,109.67 L400.78,109.86 L402.35,110.01 L403.91,110.12 L405.47,110.21 L407.04,110.28 L408.60,110.33" fill="none" stroke="#8dc29c" stroke-width="1.25"/>
<path d="M314.80,58.14 L316.36,58.16 L317.93,58.19 L319.49,58.23 L321.05,58.27 L322.62,58.32 L324.18,58.38 L325.74,58.45 L327.31,58.54 L328.87,58.64 L330.43,58.75 L332.00,58.89 L333.56,59.05 L335.12,59.24 L336.69,59.47 L338.25,59.73 L339.81,60.03 L341.38,60.39 L342.94,60.80 L344.50,61.28 L346.07,61.82 L347.63,62.45 L349.19,63.16 L350.76,63.96 L352.32,64.85 L353.88,65.85 L355.45,66.94 L357.01,68.12 L358.57,69.39 L360.14,70.74 L361.70,72.15 L363.26,73.61 L364.83,75.09 L366.39,76.57 L367.95,78.03 L369.52,79.45 L371.08,80.81 L372.64,82.10 L374.21,83.31 L375.77,84.42 L377.33,85.44 L378.90,86.35 L380.46,87.17 L382.02,87.90 L383.59,88.55 L385.15,89.11 L386.71,89.60 L388.28,90.03 L389.84,90.39 L391.40,90.71 L392.97,90.98 L394.53,91.21 L396.09,91.41 L397.66,91.58 L399.22,91.72 L400.78,91.84 L402.35,91.94 L403.91,92.03 L405.47,92.10 L407.04,92.16 L408.60,92.22" fill="none" stroke="#3a86c8" stroke-width="1.25"/>
<path d="M314.80,59.53 L316.36,59.54 L317.93,59.54 L319.49,59.55 L321.05,59.55 L322.62,59.56 L324.18,59.57 L325.74,59.57 L327.31,59.58 L328.87,59.59 L330.43,59.60 L332.00,59.61 L333.56,59.63 L335.12,59.64 L336.69,59.66 L338.25,59.68 L339.81,59.70 L341.38,59.72 L342.94,59.74 L344.50,59.77 L346.07,59.80 L347.63,59.84 L349.19,59.87 L350.76,59.92 L352.32,59.96 L353.88,60.02 L355.45,60.07 L357.01,60.14 L358.57,60.21 L360.14,60.29 L361.70,60.37 L363.26,60.47 L364.83,60.58 L366.39,60.69 L367.95,60.82 L369.52,60.96 L371.08,61.12 L372.64,61.29 L374.21,61.47 L375.77,61.67 L377.33,61.89 L378.90,62.13 L380.46,62.39 L382.02,62.67 L383.59,62.97 L385.15,63.29 L386.71,63.63 L388.28,64.00 L389.84,64.38 L391.40,64.79 L392.97,65.22 L394.53,65.67 L396.09,66.13 L397.66,66.61 L399.22,67.10 L400.78,67.61 L402.35,68.12 L403.91,68.64 L405.47,69.16 L407.04,69.68 L408.60,70.19" fill="none" stroke="#14994a" stroke-width="1.25"/>
<circle cx="314.80" cy="67.20" r="2.75" fill="#000000"/>
<circle cx="333.40" cy="66.10" r="2.75" fill="#000000"/>
<circle cx="352.10" cy="70.80" r="2.75" fill="#000000"/>
<circle cx="370.80" cy="60.30" r="2.75" fill="#000000"/>
<circle cx="389.80" cy="59.10" r="2.75" fill="#000000"/>
<circle cx="408.60" cy="66.70" r="2.75" fill="#000000"/>
<polygon points="314.80,57.50 317.35,60.50 314.80,63.50 312.25,60.50" fill="#a9c5e8"/>
<polygon points="333.40,57.50 335.95,60.50 333.40,63.50 330.85,60.50" fill="#a9c5e8"/>
<polygon points="352.10,62.70 354.65,65.70 352.10,68.70 349.55,65.70" fill="#a9c5e8"/>
<polygon points="370.80,78.50 373.35,81.50 370.80,84.50 368.25,81.50" fill="#a9c5e8"/>
<polygon points="389.80,97.00 392.35,100.00 389.80,103.00 387.25,100.00" fill="#a9c5e8"/>
<polygon points="408.60,103.80 411.15,106.80 408.60,109.80 406.05,106.80" fill="#a9c5e8"/>
<polygon points="314.80,60.75 317.80,66.30 311.80,66.30" fill="#8dc29c"/>
<polygon points="333.40,53.75 336.40,59.30 330.40,59.30" fill="#8dc29c"/>
<polygon points="352.10,56.35 355.10,61.90 349.10,61.90" fill="#8dc29c"/>
<polygon points="370.80,74.75 373.80,80.30 367.80,80.30" fill="#8dc29c"/>
<polygon points="389.80,102.05 392.80,107.60 386.80,107.60" fill="#8dc29c"/>
<polygon points="408.60,106.45 411.60,112.00 405.60,112.00" fill="#8dc29c"/>
<rect x="312.00" y="53.70" width="5.60" height="5.60" fill="#3a86c8"/>
<rect x="330.60" y="60.00" width="5.60" height="5.60" fill="#3a86c8"/>
<rect x="349.30" y="59.90" width="5.60" height="5.60" fill="#3a86c8"/>
<rect x="368.00" y="83.60" width="5.60" height="5.60" fill="#3a86c8"/>
<rect x="387.00" y="84.00" width="5.60" height="5.60" fill="#3a86c8"/>
<rect x="405.80" y="89.90" width="5.60" height="5.60" fill="#3a86c8"/>
<circle cx="314.80" cy="58.90" r="2.75" fill="#14994a"/>
<circle cx="333.40" cy="61.00" r="2.75" fill="#14994a"/>
<circle cx="352.10" cy="58.60" r="2.75" fill="#14994a"/>
<circle cx="370.80" cy="61.50" r="2.75" fill="#14994a"/>
<circle cx="389.80" cy="64.80" r="2.75" fill="#14994a"/>
<circle cx="408.60" cy="70.70" r="2.75" fill="#14994a"/>
<line x1="449.00" y1="32.65" x2="449.00" y2="134.15" stroke="#1a1a1a" stroke-width="1.1" />
<line x1="442.20" y1="133.60" x2="449.00" y2="133.60" stroke="#1a1a1a" stroke-width="1.1" />
<text x="439.80" y="137.55" font-size="10.2" text-anchor="end" font-weight="normal" >0</text>
<line x1="442.20" y1="113.52" x2="449.00" y2="113.52" stroke="#1a1a1a" stroke-width="1.1" />
<text x="439.80" y="117.47" font-size="10.2" text-anchor="end" font-weight="normal" >20</text>
<line x1="442.20" y1="93.44" x2="449.00" y2="93.44" stroke="#1a1a1a" stroke-width="1.1" />
<text x="439.80" y="97.39" font-size="10.2" text-anchor="end" font-weight="normal" >40</text>
<line x1="442.20" y1="73.36" x2="449.00" y2="73.36" stroke="#1a1a1a" stroke-width="1.1" />
<text x="439.80" y="77.31" font-size="10.2" text-anchor="end" font-weight="normal" >60</text>
<line x1="442.20" y1="53.28" x2="449.00" y2="53.28" stroke="#1a1a1a" stroke-width="1.1" />
<text x="439.80" y="57.23" font-size="10.2" text-anchor="end" font-weight="normal" >80</text>
<line x1="442.20" y1="33.20" x2="449.00" y2="33.20" stroke="#1a1a1a" stroke-width="1.1" />
<text x="439.80" y="37.15" font-size="10.2" text-anchor="end" font-weight="normal" >100</text>
<line x1="448.45" y1="133.60" x2="550.00" y2="133.60" stroke="#1a1a1a" stroke-width="1.1" />
<line x1="450.71" y1="133.60" x2="450.71" y2="137.50" stroke="#1a1a1a" stroke-width="0.95" />
<line x1="452.28" y1="133.60" x2="452.28" y2="137.50" stroke="#1a1a1a" stroke-width="0.95" />
<line x1="453.63" y1="133.60" x2="453.63" y2="137.50" stroke="#1a1a1a" stroke-width="0.95" />
<line x1="454.83" y1="133.60" x2="454.83" y2="137.50" stroke="#1a1a1a" stroke-width="0.95" />
<line x1="455.90" y1="133.60" x2="455.90" y2="141.00" stroke="#1a1a1a" stroke-width="1.1" />
<line x1="462.94" y1="133.60" x2="462.94" y2="137.50" stroke="#1a1a1a" stroke-width="0.95" />
<line x1="467.06" y1="133.60" x2="467.06" y2="137.50" stroke="#1a1a1a" stroke-width="0.95" />
<line x1="469.99" y1="133.60" x2="469.99" y2="137.50" stroke="#1a1a1a" stroke-width="0.95" />
<line x1="472.26" y1="133.60" x2="472.26" y2="137.50" stroke="#1a1a1a" stroke-width="0.95" />
<line x1="474.11" y1="133.60" x2="474.11" y2="137.50" stroke="#1a1a1a" stroke-width="0.95" />
<line x1="475.68" y1="133.60" x2="475.68" y2="137.50" stroke="#1a1a1a" stroke-width="0.95" />
<line x1="477.03" y1="133.60" x2="477.03" y2="137.50" stroke="#1a1a1a" stroke-width="0.95" />
<line x1="478.23" y1="133.60" x2="478.23" y2="137.50" stroke="#1a1a1a" stroke-width="0.95" />
<line x1="479.30" y1="133.60" x2="479.30" y2="141.00" stroke="#1a1a1a" stroke-width="1.1" />
<line x1="486.34" y1="133.60" x2="486.34" y2="137.50" stroke="#1a1a1a" stroke-width="0.95" />
<line x1="490.46" y1="133.60" x2="490.46" y2="137.50" stroke="#1a1a1a" stroke-width="0.95" />
<line x1="493.39" y1="133.60" x2="493.39" y2="137.50" stroke="#1a1a1a" stroke-width="0.95" />
<line x1="495.66" y1="133.60" x2="495.66" y2="137.50" stroke="#1a1a1a" stroke-width="0.95" />
<line x1="497.51" y1="133.60" x2="497.51" y2="137.50" stroke="#1a1a1a" stroke-width="0.95" />
<line x1="499.08" y1="133.60" x2="499.08" y2="137.50" stroke="#1a1a1a" stroke-width="0.95" />
<line x1="500.43" y1="133.60" x2="500.43" y2="137.50" stroke="#1a1a1a" stroke-width="0.95" />
<line x1="501.63" y1="133.60" x2="501.63" y2="137.50" stroke="#1a1a1a" stroke-width="0.95" />
<line x1="502.70" y1="133.60" x2="502.70" y2="141.00" stroke="#1a1a1a" stroke-width="1.1" />
<line x1="509.74" y1="133.60" x2="509.74" y2="137.50" stroke="#1a1a1a" stroke-width="0.95" />
<line x1="513.86" y1="133.60" x2="513.86" y2="137.50" stroke="#1a1a1a" stroke-width="0.95" />
<line x1="516.79" y1="133.60" x2="516.79" y2="137.50" stroke="#1a1a1a" stroke-width="0.95" />
<line x1="519.06" y1="133.60" x2="519.06" y2="137.50" stroke="#1a1a1a" stroke-width="0.95" />
<line x1="520.91" y1="133.60" x2="520.91" y2="137.50" stroke="#1a1a1a" stroke-width="0.95" />
<line x1="522.48" y1="133.60" x2="522.48" y2="137.50" stroke="#1a1a1a" stroke-width="0.95" />
<line x1="523.83" y1="133.60" x2="523.83" y2="137.50" stroke="#1a1a1a" stroke-width="0.95" />
<line x1="525.03" y1="133.60" x2="525.03" y2="137.50" stroke="#1a1a1a" stroke-width="0.95" />
<line x1="526.10" y1="133.60" x2="526.10" y2="141.00" stroke="#1a1a1a" stroke-width="1.1" />
<line x1="533.14" y1="133.60" x2="533.14" y2="137.50" stroke="#1a1a1a" stroke-width="0.95" />
<line x1="537.26" y1="133.60" x2="537.26" y2="137.50" stroke="#1a1a1a" stroke-width="0.95" />
<line x1="540.19" y1="133.60" x2="540.19" y2="137.50" stroke="#1a1a1a" stroke-width="0.95" />
<line x1="542.46" y1="133.60" x2="542.46" y2="137.50" stroke="#1a1a1a" stroke-width="0.95" />
<line x1="544.31" y1="133.60" x2="544.31" y2="137.50" stroke="#1a1a1a" stroke-width="0.95" />
<line x1="545.88" y1="133.60" x2="545.88" y2="137.50" stroke="#1a1a1a" stroke-width="0.95" />
<line x1="547.23" y1="133.60" x2="547.23" y2="137.50" stroke="#1a1a1a" stroke-width="0.95" />
<line x1="548.43" y1="133.60" x2="548.43" y2="137.50" stroke="#1a1a1a" stroke-width="0.95" />
<line x1="549.50" y1="133.60" x2="549.50" y2="141.00" stroke="#1a1a1a" stroke-width="1.1" />
<text y="152" font-size="10.2" text-anchor="middle" x="456.70">10<tspan font-size="7.5" dx="1.0" dy="-2.9">-2</tspan></text>
<text y="152" font-size="10.2" text-anchor="middle" x="480.10">10<tspan font-size="7.5" dx="1.0" dy="-2.9">-1</tspan></text>
<text y="152" font-size="10.2" text-anchor="middle" x="503.50">10<tspan font-size="7.5" dx="1.0" dy="-2.9">0</tspan></text>
<text y="152" font-size="10.2" text-anchor="middle" x="526.90">10<tspan font-size="7.5" dx="1.0" dy="-2.9">1</tspan></text>
<text y="152" font-size="10.2" text-anchor="middle" x="550.30">10<tspan font-size="7.5" dx="1.0" dy="-2.9">2</tspan></text>
<text x="499.25" y="171.10" font-size="12.0" text-anchor="middle" font-weight="normal" >Molar ratio</text>
<text x="499.25" y="184.20" font-size="12.0" text-anchor="middle">(nb-hIgG<tspan font-size="8.6" dy="2.6">1</tspan><tspan dy="-2.6">/Api m 1)</tspan></text>
<text x="496.40" y="14.70" font-size="13.8" text-anchor="middle" font-weight="normal" >Patient I</text>
<path d="M455.90,96.08 L457.46,96.08 L459.02,96.08 L460.58,96.08 L462.14,96.07 L463.70,96.07 L465.26,96.07 L466.82,96.06 L468.38,96.06 L469.94,96.05 L471.50,96.04 L473.06,96.04 L474.62,96.03 L476.18,96.02 L477.74,96.01 L479.30,95.99 L480.86,95.98 L482.42,95.97 L483.98,95.95 L485.54,95.93 L487.10,95.91 L488.66,95.88 L490.22,95.85 L491.78,95.82 L493.34,95.79 L494.90,95.75 L496.46,95.70 L498.02,95.65 L499.58,95.60 L501.14,95.54 L502.70,95.47 L504.26,95.40 L505.82,95.32 L507.38,95.23 L508.94,95.13 L510.50,95.02 L512.06,94.91 L513.62,94.78 L515.18,94.65 L516.74,94.51 L518.30,94.35 L519.86,94.19 L521.42,94.02 L522.98,93.85 L524.54,93.67 L526.10,93.48 L527.66,93.29 L529.22,93.10 L530.78,92.90 L532.34,92.71 L533.90,92.52 L535.46,92.33 L537.02,92.15 L538.58,91.98 L540.14,91.81 L541.70,91.65 L543.26,91.49 L544.82,91.35 L546.38,91.22 L547.94,91.09 L549.50,90.98" fill="none" stroke="#3c2b5e" stroke-width="1.25"/>
<path d="M455.90,96.37 L457.46,96.47 L459.02,96.58 L460.58,96.71 L462.14,96.87 L463.70,97.06 L465.26,97.28 L466.82,97.54 L468.38,97.84 L469.94,98.19 L471.50,98.59 L473.06,99.04 L474.62,99.56 L476.18,100.14 L477.74,100.77 L479.30,101.47 L480.86,102.21 L482.42,103.00 L483.98,103.81 L485.54,104.65 L487.10,105.49 L488.66,106.32 L490.22,107.13 L491.78,107.90 L493.34,108.63 L494.90,109.30 L496.46,109.91 L498.02,110.46 L499.58,110.95 L501.14,111.38 L502.70,111.76 L504.26,112.09 L505.82,112.37 L507.38,112.62 L508.94,112.82 L510.50,113.00 L512.06,113.14 L513.62,113.27 L515.18,113.37 L516.74,113.46 L518.30,113.53 L519.86,113.60 L521.42,113.65 L522.98,113.69 L524.54,113.73 L526.10,113.75 L527.66,113.78 L529.22,113.80 L530.78,113.82 L532.34,113.83 L533.90,113.84 L535.46,113.85 L537.02,113.86 L538.58,113.87 L540.14,113.87 L541.70,113.88 L543.26,113.88 L544.82,113.88 L546.38,113.89 L547.94,113.89 L549.50,113.89" fill="none" stroke="#a9c5e8" stroke-width="1.25"/>
<path d="M455.90,96.46 L457.46,96.60 L459.02,96.78 L460.58,96.99 L462.14,97.26 L463.70,97.58 L465.26,97.96 L466.82,98.42 L468.38,98.96 L469.94,99.58 L471.50,100.28 L473.06,101.06 L474.62,101.91 L476.18,102.81 L477.74,103.74 L479.30,104.68 L480.86,105.59 L482.42,106.46 L483.98,107.27 L485.54,108.00 L487.10,108.65 L488.66,109.21 L490.22,109.69 L491.78,110.10 L493.34,110.44 L494.90,110.72 L496.46,110.96 L498.02,111.14 L499.58,111.30 L501.14,111.42 L502.70,111.52 L504.26,111.59 L505.82,111.66 L507.38,111.71 L508.94,111.75 L510.50,111.78 L512.06,111.80 L513.62,111.82 L515.18,111.84 L516.74,111.85 L518.30,111.86 L519.86,111.87 L521.42,111.88 L522.98,111.88 L524.54,111.89 L526.10,111.89 L527.66,111.89 L529.22,111.89 L530.78,111.89 L532.34,111.90 L533.90,111.90 L535.46,111.90 L537.02,111.90 L538.58,111.90 L540.14,111.90 L541.70,111.90 L543.26,111.90 L544.82,111.90 L546.38,111.90 L547.94,111.90 L549.50,111.90" fill="none" stroke="#8dc29c" stroke-width="1.25"/>
<path d="M455.90,96.33 L457.46,96.41 L459.02,96.51 L460.58,96.64 L462.14,96.78 L463.70,96.95 L465.26,97.16 L466.82,97.40 L468.38,97.68 L469.94,98.01 L471.50,98.39 L473.06,98.83 L474.62,99.33 L476.18,99.90 L477.74,100.53 L479.30,101.24 L480.86,102.01 L482.42,102.84 L483.98,103.72 L485.54,104.65 L487.10,105.60 L488.66,106.56 L490.22,107.51 L491.78,108.44 L493.34,109.33 L494.90,110.17 L496.46,110.95 L498.02,111.66 L499.58,112.31 L501.14,112.89 L502.70,113.40 L504.26,113.85 L505.82,114.24 L507.38,114.57 L508.94,114.86 L510.50,115.11 L512.06,115.32 L513.62,115.49 L515.18,115.64 L516.74,115.77 L518.30,115.87 L519.86,115.96 L521.42,116.04 L522.98,116.10 L524.54,116.15 L526.10,116.19 L527.66,116.23 L529.22,116.26 L530.78,116.28 L532.34,116.30 L533.90,116.32 L535.46,116.33 L537.02,116.34 L538.58,116.35 L540.14,116.36 L541.70,116.37 L543.26,116.37 L544.82,116.38 L546.38,116.38 L547.94,116.38 L549.50,116.39" fill="none" stroke="#3a86c8" stroke-width="1.25"/>
<path d="M455.90,99.54 L457.46,99.55 L459.02,99.57 L460.58,99.59 L462.14,99.62 L463.70,99.65 L465.26,99.68 L466.82,99.71 L468.38,99.75 L469.94,99.80 L471.50,99.85 L473.06,99.90 L474.62,99.96 L476.18,100.03 L477.74,100.10 L479.30,100.18 L480.86,100.27 L482.42,100.37 L483.98,100.48 L485.54,100.59 L487.10,100.71 L488.66,100.85 L490.22,100.99 L491.78,101.14 L493.34,101.30 L494.90,101.46 L496.46,101.63 L498.02,101.81 L499.58,101.99 L501.14,102.18 L502.70,102.36 L504.26,102.55 L505.82,102.74 L507.38,102.92 L508.94,103.10 L510.50,103.27 L512.06,103.44 L513.62,103.60 L515.18,103.76 L516.74,103.90 L518.30,104.04 L519.86,104.16 L521.42,104.28 L522.98,104.39 L524.54,104.49 L526.10,104.58 L527.66,104.67 L529.22,104.74 L530.78,104.81 L532.34,104.88 L533.90,104.93 L535.46,104.98 L537.02,105.03 L538.58,105.07 L540.14,105.11 L541.70,105.14 L543.26,105.17 L544.82,105.20 L546.38,105.22 L547.94,105.24 L549.50,105.26" fill="none" stroke="#14994a" stroke-width="1.25"/>
<circle cx="455.90" cy="94.10" r="2.75" fill="#000000"/>
<circle cx="479.30" cy="95.30" r="2.75" fill="#000000"/>
<circle cx="502.70" cy="98.10" r="2.75" fill="#000000"/>
<circle cx="526.10" cy="92.80" r="2.75" fill="#000000"/>
<circle cx="549.50" cy="91.60" r="2.75" fill="#000000"/>
<polygon points="455.90,93.40 458.45,96.40 455.90,99.40 453.35,96.40" fill="#a9c5e8"/>
<polygon points="479.30,97.40 481.85,100.40 479.30,103.40 476.75,100.40" fill="#a9c5e8"/>
<polygon points="502.70,115.50 505.25,118.50 502.70,121.50 500.15,118.50" fill="#a9c5e8"/>
<polygon points="526.10,111.40 528.65,114.40 526.10,117.40 523.55,114.40" fill="#a9c5e8"/>
<polygon points="549.50,105.90 552.05,108.90 549.50,111.90 546.95,108.90" fill="#a9c5e8"/>
<polygon points="455.90,93.25 458.90,98.80 452.90,98.80" fill="#8dc29c"/>
<polygon points="479.30,101.75 482.30,107.30 476.30,107.30" fill="#8dc29c"/>
<polygon points="502.70,109.25 505.70,114.80 499.70,114.80" fill="#8dc29c"/>
<polygon points="526.10,108.25 529.10,113.80 523.10,113.80" fill="#8dc29c"/>
<polygon points="549.50,107.35 552.50,112.90 546.50,112.90" fill="#8dc29c"/>
<rect x="453.10" y="93.30" width="5.60" height="5.60" fill="#3a86c8"/>
<rect x="476.50" y="95.70" width="5.60" height="5.60" fill="#3a86c8"/>
<rect x="499.90" y="112.20" width="5.60" height="5.60" fill="#3a86c8"/>
<rect x="523.30" y="111.40" width="5.60" height="5.60" fill="#3a86c8"/>
<rect x="546.70" y="113.80" width="5.60" height="5.60" fill="#3a86c8"/>
<circle cx="455.90" cy="101.20" r="2.75" fill="#14994a"/>
<circle cx="479.30" cy="99.00" r="2.75" fill="#14994a"/>
<circle cx="502.70" cy="103.30" r="2.75" fill="#14994a"/>
<circle cx="526.10" cy="107.60" r="2.75" fill="#14994a"/>
<circle cx="549.50" cy="102.50" r="2.75" fill="#14994a"/>
<line x1="575.70" y1="33.95" x2="575.70" y2="135.05" stroke="#1a1a1a" stroke-width="1.1" />
<line x1="568.90" y1="134.50" x2="575.70" y2="134.50" stroke="#1a1a1a" stroke-width="1.1" />
<text x="566.50" y="138.45" font-size="10.2" text-anchor="end" font-weight="normal" >0</text>
<line x1="568.90" y1="114.50" x2="575.70" y2="114.50" stroke="#1a1a1a" stroke-width="1.1" />
<text x="566.50" y="118.45" font-size="10.2" text-anchor="end" font-weight="normal" >20</text>
<line x1="568.90" y1="94.50" x2="575.70" y2="94.50" stroke="#1a1a1a" stroke-width="1.1" />
<text x="566.50" y="98.45" font-size="10.2" text-anchor="end" font-weight="normal" >40</text>
<line x1="568.90" y1="74.50" x2="575.70" y2="74.50" stroke="#1a1a1a" stroke-width="1.1" />
<text x="566.50" y="78.45" font-size="10.2" text-anchor="end" font-weight="normal" >60</text>
<line x1="568.90" y1="54.50" x2="575.70" y2="54.50" stroke="#1a1a1a" stroke-width="1.1" />
<text x="566.50" y="58.45" font-size="10.2" text-anchor="end" font-weight="normal" >80</text>
<line x1="568.90" y1="34.50" x2="575.70" y2="34.50" stroke="#1a1a1a" stroke-width="1.1" />
<text x="566.50" y="38.45" font-size="10.2" text-anchor="end" font-weight="normal" >100</text>
<line x1="575.15" y1="134.50" x2="677.50" y2="134.50" stroke="#1a1a1a" stroke-width="1.1" />
<line x1="577.06" y1="134.50" x2="577.06" y2="138.40" stroke="#1a1a1a" stroke-width="0.95" />
<line x1="578.34" y1="134.50" x2="578.34" y2="138.40" stroke="#1a1a1a" stroke-width="0.95" />
<line x1="579.45" y1="134.50" x2="579.45" y2="138.40" stroke="#1a1a1a" stroke-width="0.95" />
<line x1="580.43" y1="134.50" x2="580.43" y2="138.40" stroke="#1a1a1a" stroke-width="0.95" />
<line x1="581.30" y1="134.50" x2="581.30" y2="141.90" stroke="#1a1a1a" stroke-width="1.1" />
<line x1="587.05" y1="134.50" x2="587.05" y2="138.40" stroke="#1a1a1a" stroke-width="0.95" />
<line x1="590.41" y1="134.50" x2="590.41" y2="138.40" stroke="#1a1a1a" stroke-width="0.95" />
<line x1="592.80" y1="134.50" x2="592.80" y2="138.40" stroke="#1a1a1a" stroke-width="0.95" />
<line x1="594.65" y1="134.50" x2="594.65" y2="138.40" stroke="#1a1a1a" stroke-width="0.95" />
<line x1="596.16" y1="134.50" x2="596.16" y2="138.40" stroke="#1a1a1a" stroke-width="0.95" />
<line x1="597.44" y1="134.50" x2="597.44" y2="138.40" stroke="#1a1a1a" stroke-width="0.95" />
<line x1="598.55" y1="134.50" x2="598.55" y2="138.40" stroke="#1a1a1a" stroke-width="0.95" />
<line x1="599.53" y1="134.50" x2="599.53" y2="138.40" stroke="#1a1a1a" stroke-width="0.95" />
<line x1="600.40" y1="134.50" x2="600.40" y2="141.90" stroke="#1a1a1a" stroke-width="1.1" />
<line x1="606.15" y1="134.50" x2="606.15" y2="138.40" stroke="#1a1a1a" stroke-width="0.95" />
<line x1="609.51" y1="134.50" x2="609.51" y2="138.40" stroke="#1a1a1a" stroke-width="0.95" />
<line x1="611.90" y1="134.50" x2="611.90" y2="138.40" stroke="#1a1a1a" stroke-width="0.95" />
<line x1="613.75" y1="134.50" x2="613.75" y2="138.40" stroke="#1a1a1a" stroke-width="0.95" />
<line x1="615.26" y1="134.50" x2="615.26" y2="138.40" stroke="#1a1a1a" stroke-width="0.95" />
<line x1="616.54" y1="134.50" x2="616.54" y2="138.40" stroke="#1a1a1a" stroke-width="0.95" />
<line x1="617.65" y1="134.50" x2="617.65" y2="138.40" stroke="#1a1a1a" stroke-width="0.95" />
<line x1="618.63" y1="134.50" x2="618.63" y2="138.40" stroke="#1a1a1a" stroke-width="0.95" />
<line x1="619.50" y1="134.50" x2="619.50" y2="141.90" stroke="#1a1a1a" stroke-width="1.1" />
<line x1="625.25" y1="134.50" x2="625.25" y2="138.40" stroke="#1a1a1a" stroke-width="0.95" />
<line x1="628.61" y1="134.50" x2="628.61" y2="138.40" stroke="#1a1a1a" stroke-width="0.95" />
<line x1="631.00" y1="134.50" x2="631.00" y2="138.40" stroke="#1a1a1a" stroke-width="0.95" />
<line x1="632.85" y1="134.50" x2="632.85" y2="138.40" stroke="#1a1a1a" stroke-width="0.95" />
<line x1="634.36" y1="134.50" x2="634.36" y2="138.40" stroke="#1a1a1a" stroke-width="0.95" />
<line x1="635.64" y1="134.50" x2="635.64" y2="138.40" stroke="#1a1a1a" stroke-width="0.95" />
<line x1="636.75" y1="134.50" x2="636.75" y2="138.40" stroke="#1a1a1a" stroke-width="0.95" />
<line x1="637.73" y1="134.50" x2="637.73" y2="138.40" stroke="#1a1a1a" stroke-width="0.95" />
<line x1="638.60" y1="134.50" x2="638.60" y2="141.90" stroke="#1a1a1a" stroke-width="1.1" />
<line x1="644.35" y1="134.50" x2="644.35" y2="138.40" stroke="#1a1a1a" stroke-width="0.95" />
<line x1="647.71" y1="134.50" x2="647.71" y2="138.40" stroke="#1a1a1a" stroke-width="0.95" />
<line x1="650.10" y1="134.50" x2="650.10" y2="138.40" stroke="#1a1a1a" stroke-width="0.95" />
<line x1="651.95" y1="134.50" x2="651.95" y2="138.40" stroke="#1a1a1a" stroke-width="0.95" />
<line x1="653.46" y1="134.50" x2="653.46" y2="138.40" stroke="#1a1a1a" stroke-width="0.95" />
<line x1="654.74" y1="134.50" x2="654.74" y2="138.40" stroke="#1a1a1a" stroke-width="0.95" />
<line x1="655.85" y1="134.50" x2="655.85" y2="138.40" stroke="#1a1a1a" stroke-width="0.95" />
<line x1="656.83" y1="134.50" x2="656.83" y2="138.40" stroke="#1a1a1a" stroke-width="0.95" />
<line x1="657.70" y1="134.50" x2="657.70" y2="141.90" stroke="#1a1a1a" stroke-width="1.1" />
<line x1="663.45" y1="134.50" x2="663.45" y2="138.40" stroke="#1a1a1a" stroke-width="0.95" />
<line x1="666.81" y1="134.50" x2="666.81" y2="138.40" stroke="#1a1a1a" stroke-width="0.95" />
<line x1="669.20" y1="134.50" x2="669.20" y2="138.40" stroke="#1a1a1a" stroke-width="0.95" />
<line x1="671.05" y1="134.50" x2="671.05" y2="138.40" stroke="#1a1a1a" stroke-width="0.95" />
<line x1="672.56" y1="134.50" x2="672.56" y2="138.40" stroke="#1a1a1a" stroke-width="0.95" />
<line x1="673.84" y1="134.50" x2="673.84" y2="138.40" stroke="#1a1a1a" stroke-width="0.95" />
<line x1="674.95" y1="134.50" x2="674.95" y2="138.40" stroke="#1a1a1a" stroke-width="0.95" />
<line x1="675.93" y1="134.50" x2="675.93" y2="138.40" stroke="#1a1a1a" stroke-width="0.95" />
<line x1="676.80" y1="134.50" x2="676.80" y2="141.90" stroke="#1a1a1a" stroke-width="1.1" />
<text y="153" font-size="10.2" text-anchor="middle" x="582.10">10<tspan font-size="7.5" dx="1.0" dy="-2.9">-3</tspan></text>
<text y="153" font-size="10.2" text-anchor="middle" x="601.20">10<tspan font-size="7.5" dx="1.0" dy="-2.9">-2</tspan></text>
<text y="153" font-size="10.2" text-anchor="middle" x="620.30">10<tspan font-size="7.5" dx="1.0" dy="-2.9">-1</tspan></text>
<text y="153" font-size="10.2" text-anchor="middle" x="639.40">10<tspan font-size="7.5" dx="1.0" dy="-2.9">0</tspan></text>
<text y="153" font-size="10.2" text-anchor="middle" x="658.50">10<tspan font-size="7.5" dx="1.0" dy="-2.9">1</tspan></text>
<text y="153" font-size="10.2" text-anchor="middle" x="677.60">10<tspan font-size="7.5" dx="1.0" dy="-2.9">2</tspan></text>
<text x="626.35" y="172.00" font-size="12.0" text-anchor="middle" font-weight="normal" >Molar ratio</text>
<text x="626.35" y="185.10" font-size="12.0" text-anchor="middle">(nb-hIgG<tspan font-size="8.6" dy="2.6">1</tspan><tspan dy="-2.6">/Api m 1)</tspan></text>
<text x="628.10" y="14.70" font-size="13.8" text-anchor="middle" font-weight="normal" >Patient J</text>
<path d="M581.10,93.00 L582.70,93.00 L584.30,93.00 L585.89,93.00 L587.49,93.00 L589.09,93.00 L590.69,93.00 L592.29,93.00 L593.89,93.00 L595.49,93.00 L597.08,93.00 L598.68,93.00 L600.28,93.00 L601.88,93.00 L603.48,93.00 L605.08,93.00 L606.67,93.00 L608.27,93.00 L609.87,93.00 L611.47,93.01 L613.07,93.01 L614.66,93.01 L616.26,93.01 L617.86,93.01 L619.46,93.01 L621.06,93.02 L622.66,93.02 L624.25,93.03 L625.85,93.03 L627.45,93.04 L629.05,93.04 L630.65,93.05 L632.25,93.07 L633.85,93.08 L635.44,93.10 L637.04,93.12 L638.64,93.14 L640.24,93.17 L641.84,93.20 L643.44,93.25 L645.03,93.30 L646.63,93.35 L648.23,93.43 L649.83,93.51 L651.43,93.61 L653.02,93.73 L654.62,93.86 L656.22,94.02 L657.82,94.20 L659.42,94.41 L661.02,94.65 L662.62,94.91 L664.21,95.20 L665.81,95.51 L667.41,95.85 L669.01,96.21 L670.61,96.57 L672.21,96.95 L673.80,97.32 L675.40,97.69 L677.00,98.04" fill="none" stroke="#3c2b5e" stroke-width="1.25"/>
<path d="M581.10,92.31 L582.70,92.31 L584.30,92.31 L585.89,92.32 L587.49,92.32 L589.09,92.33 L590.69,92.33 L592.29,92.34 L593.89,92.35 L595.49,92.37 L597.08,92.38 L598.68,92.41 L600.28,92.43 L601.88,92.47 L603.48,92.51 L605.08,92.57 L606.67,92.64 L608.27,92.73 L609.87,92.84 L611.47,92.98 L613.07,93.16 L614.66,93.37 L616.26,93.62 L617.86,93.93 L619.46,94.30 L621.06,94.73 L622.66,95.22 L624.25,95.77 L625.85,96.39 L627.45,97.05 L629.05,97.73 L630.65,98.43 L632.25,99.13 L633.85,99.79 L635.44,100.41 L637.04,100.98 L638.64,101.49 L640.24,101.93 L641.84,102.31 L643.44,102.62 L645.03,102.89 L646.63,103.11 L648.23,103.29 L649.83,103.43 L651.43,103.55 L653.02,103.64 L654.62,103.72 L656.22,103.78 L657.82,103.82 L659.42,103.86 L661.02,103.89 L662.62,103.91 L664.21,103.93 L665.81,103.95 L667.41,103.96 L669.01,103.97 L670.61,103.97 L672.21,103.98 L673.80,103.98 L675.40,103.99 L677.00,103.99" fill="none" stroke="#a9c5e8" stroke-width="1.25"/>
<path d="M581.10,92.31 L582.70,92.31 L584.30,92.32 L585.89,92.32 L587.49,92.33 L589.09,92.34 L590.69,92.35 L592.29,92.36 L593.89,92.38 L595.49,92.40 L597.08,92.42 L598.68,92.45 L600.28,92.49 L601.88,92.55 L603.48,92.61 L605.08,92.69 L606.67,92.80 L608.27,92.93 L609.87,93.09 L611.47,93.29 L613.07,93.54 L614.66,93.85 L616.26,94.22 L617.86,94.67 L619.46,95.20 L621.06,95.82 L622.66,96.54 L624.25,97.35 L625.85,98.24 L627.45,99.19 L629.05,100.20 L630.65,101.21 L632.25,102.22 L633.85,103.19 L635.44,104.09 L637.04,104.91 L638.64,105.65 L640.24,106.29 L641.84,106.84 L643.44,107.30 L645.03,107.69 L646.63,108.00 L648.23,108.26 L649.83,108.47 L651.43,108.64 L653.02,108.78 L654.62,108.89 L656.22,108.97 L657.82,109.04 L659.42,109.10 L661.02,109.14 L662.62,109.17 L664.21,109.20 L665.81,109.22 L667.41,109.24 L669.01,109.25 L670.61,109.26 L672.21,109.27 L673.80,109.28 L675.40,109.28 L677.00,109.29" fill="none" stroke="#8dc29c" stroke-width="1.25"/>
<path d="M581.10,91.81 L582.70,91.81 L584.30,91.82 L585.89,91.82 L587.49,91.83 L589.09,91.83 L590.69,91.84 L592.29,91.85 L593.89,91.87 L595.49,91.88 L597.08,91.90 L598.68,91.93 L600.28,91.97 L601.88,92.01 L603.48,92.07 L605.08,92.14 L606.67,92.23 L608.27,92.34 L609.87,92.48 L611.47,92.65 L613.07,92.87 L614.66,93.12 L616.26,93.44 L617.86,93.81 L619.46,94.25 L621.06,94.76 L622.66,95.34 L624.25,95.98 L625.85,96.68 L627.45,97.42 L629.05,98.17 L630.65,98.93 L632.25,99.67 L633.85,100.36 L635.44,101.00 L637.04,101.57 L638.64,102.08 L640.24,102.51 L641.84,102.88 L643.44,103.19 L645.03,103.45 L646.63,103.66 L648.23,103.83 L649.83,103.97 L651.43,104.08 L653.02,104.16 L654.62,104.23 L656.22,104.29 L657.82,104.33 L659.42,104.37 L661.02,104.40 L662.62,104.42 L664.21,104.44 L665.81,104.45 L667.41,104.46 L669.01,104.47 L670.61,104.48 L672.21,104.48 L673.80,104.48 L675.40,104.49 L677.00,104.49" fill="none" stroke="#3a86c8" stroke-width="1.25"/>
<path d="M581.10,89.50 L582.70,89.50 L584.30,89.50 L585.89,89.50 L587.49,89.50 L589.09,89.50 L590.69,89.50 L592.29,89.50 L593.89,89.50 L595.49,89.50 L597.08,89.50 L598.68,89.50 L600.28,89.50 L601.88,89.50 L603.48,89.50 L605.08,89.50 L606.67,89.50 L608.27,89.50 L609.87,89.50 L611.47,89.50 L613.07,89.50 L614.66,89.50 L616.26,89.51 L617.86,89.51 L619.46,89.51 L621.06,89.51 L622.66,89.51 L624.25,89.52 L625.85,89.52 L627.45,89.52 L629.05,89.53 L630.65,89.54 L632.25,89.54 L633.85,89.55 L635.44,89.57 L637.04,89.58 L638.64,89.60 L640.24,89.62 L641.84,89.65 L643.44,89.68 L645.03,89.73 L646.63,89.78 L648.23,89.84 L649.83,89.91 L651.43,90.00 L653.02,90.11 L654.62,90.25 L656.22,90.40 L657.82,90.59 L659.42,90.82 L661.02,91.08 L662.62,91.38 L664.21,91.73 L665.81,92.13 L667.41,92.57 L669.01,93.05 L670.61,93.58 L672.21,94.13 L673.80,94.71 L675.40,95.30 L677.00,95.88" fill="none" stroke="#14994a" stroke-width="1.25"/>
<circle cx="581.10" cy="95.90" r="2.75" fill="#000000"/>
<circle cx="600.40" cy="95.10" r="2.75" fill="#000000"/>
<circle cx="619.60" cy="93.30" r="2.75" fill="#000000"/>
<circle cx="638.80" cy="94.80" r="2.75" fill="#000000"/>
<circle cx="657.90" cy="93.30" r="2.75" fill="#000000"/>
<circle cx="677.00" cy="99.40" r="2.75" fill="#000000"/>
<polygon points="581.10,89.80 583.65,92.80 581.10,95.80 578.55,92.80" fill="#a9c5e8"/>
<polygon points="600.40,89.80 602.95,92.80 600.40,95.80 597.85,92.80" fill="#a9c5e8"/>
<polygon points="619.60,90.80 622.15,93.80 619.60,96.80 617.05,93.80" fill="#a9c5e8"/>
<polygon points="638.80,101.80 641.35,104.80 638.80,107.80 636.25,104.80" fill="#a9c5e8"/>
<polygon points="657.90,100.20 660.45,103.20 657.90,106.20 655.35,103.20" fill="#a9c5e8"/>
<polygon points="677.00,102.80 679.55,105.80 677.00,108.80 674.45,105.80" fill="#a9c5e8"/>
<polygon points="581.10,89.65 584.10,95.20 578.10,95.20" fill="#8dc29c"/>
<polygon points="600.40,89.15 603.40,94.70 597.40,94.70" fill="#8dc29c"/>
<polygon points="619.60,90.05 622.60,95.60 616.60,95.60" fill="#8dc29c"/>
<polygon points="638.80,104.75 641.80,110.30 635.80,110.30" fill="#8dc29c"/>
<polygon points="657.90,104.75 660.90,110.30 654.90,110.30" fill="#8dc29c"/>
<polygon points="677.00,106.65 680.00,112.20 674.00,112.20" fill="#8dc29c"/>
<rect x="578.30" y="89.10" width="5.60" height="5.60" fill="#3a86c8"/>
<rect x="597.60" y="85.80" width="5.60" height="5.60" fill="#3a86c8"/>
<rect x="616.80" y="91.50" width="5.60" height="5.60" fill="#3a86c8"/>
<rect x="636.00" y="99.50" width="5.60" height="5.60" fill="#3a86c8"/>
<rect x="655.10" y="95.50" width="5.60" height="5.60" fill="#3a86c8"/>
<rect x="674.20" y="105.90" width="5.60" height="5.60" fill="#3a86c8"/>
<circle cx="581.10" cy="89.50" r="2.75" fill="#14994a"/>
<circle cx="600.40" cy="89.90" r="2.75" fill="#14994a"/>
<circle cx="619.60" cy="91.50" r="2.75" fill="#14994a"/>
<circle cx="638.80" cy="89.00" r="2.75" fill="#14994a"/>
<circle cx="657.90" cy="90.60" r="2.75" fill="#14994a"/>
<circle cx="677.00" cy="96.40" r="2.75" fill="#14994a"/>
<line x1="42.50" y1="231.65" x2="42.50" y2="333.85" stroke="#1a1a1a" stroke-width="1.1" />
<line x1="35.70" y1="333.30" x2="42.50" y2="333.30" stroke="#1a1a1a" stroke-width="1.1" />
<text x="33.30" y="337.25" font-size="10.2" text-anchor="end" font-weight="normal" >0</text>
<line x1="35.70" y1="313.08" x2="42.50" y2="313.08" stroke="#1a1a1a" stroke-width="1.1" />
<text x="33.30" y="317.03" font-size="10.2" text-anchor="end" font-weight="normal" >20</text>
<line x1="35.70" y1="292.86" x2="42.50" y2="292.86" stroke="#1a1a1a" stroke-width="1.1" />
<text x="33.30" y="296.81" font-size="10.2" text-anchor="end" font-weight="normal" >40</text>
<line x1="35.70" y1="272.64" x2="42.50" y2="272.64" stroke="#1a1a1a" stroke-width="1.1" />
<text x="33.30" y="276.59" font-size="10.2" text-anchor="end" font-weight="normal" >60</text>
<line x1="35.70" y1="252.42" x2="42.50" y2="252.42" stroke="#1a1a1a" stroke-width="1.1" />
<text x="33.30" y="256.37" font-size="10.2" text-anchor="end" font-weight="normal" >80</text>
<line x1="35.70" y1="232.20" x2="42.50" y2="232.20" stroke="#1a1a1a" stroke-width="1.1" />
<text x="33.30" y="236.15" font-size="10.2" text-anchor="end" font-weight="normal" >100</text>
<line x1="41.95" y1="333.30" x2="143.80" y2="333.30" stroke="#1a1a1a" stroke-width="1.1" />
<line x1="43.55" y1="333.30" x2="43.55" y2="337.20" stroke="#1a1a1a" stroke-width="0.95" />
<line x1="44.67" y1="333.30" x2="44.67" y2="337.20" stroke="#1a1a1a" stroke-width="0.95" />
<line x1="45.66" y1="333.30" x2="45.66" y2="337.20" stroke="#1a1a1a" stroke-width="0.95" />
<line x1="46.55" y1="333.30" x2="46.55" y2="340.70" stroke="#1a1a1a" stroke-width="1.1" />
<line x1="52.37" y1="333.30" x2="52.37" y2="337.20" stroke="#1a1a1a" stroke-width="0.95" />
<line x1="55.78" y1="333.30" x2="55.78" y2="337.20" stroke="#1a1a1a" stroke-width="0.95" />
<line x1="58.20" y1="333.30" x2="58.20" y2="337.20" stroke="#1a1a1a" stroke-width="0.95" />
<line x1="60.08" y1="333.30" x2="60.08" y2="337.20" stroke="#1a1a1a" stroke-width="0.95" />
<line x1="61.61" y1="333.30" x2="61.61" y2="337.20" stroke="#1a1a1a" stroke-width="0.95" />
<line x1="62.90" y1="333.30" x2="62.90" y2="337.20" stroke="#1a1a1a" stroke-width="0.95" />
<line x1="64.02" y1="333.30" x2="64.02" y2="337.20" stroke="#1a1a1a" stroke-width="0.95" />
<line x1="65.01" y1="333.30" x2="65.01" y2="337.20" stroke="#1a1a1a" stroke-width="0.95" />
<line x1="65.90" y1="333.30" x2="65.90" y2="340.70" stroke="#1a1a1a" stroke-width="1.1" />
<line x1="71.72" y1="333.30" x2="71.72" y2="337.20" stroke="#1a1a1a" stroke-width="0.95" />
<line x1="75.13" y1="333.30" x2="75.13" y2="337.20" stroke="#1a1a1a" stroke-width="0.95" />
<line x1="77.55" y1="333.30" x2="77.55" y2="337.20" stroke="#1a1a1a" stroke-width="0.95" />
<line x1="79.43" y1="333.30" x2="79.43" y2="337.20" stroke="#1a1a1a" stroke-width="0.95" />
<line x1="80.96" y1="333.30" x2="80.96" y2="337.20" stroke="#1a1a1a" stroke-width="0.95" />
<line x1="82.25" y1="333.30" x2="82.25" y2="337.20" stroke="#1a1a1a" stroke-width="0.95" />
<line x1="83.37" y1="333.30" x2="83.37" y2="337.20" stroke="#1a1a1a" stroke-width="0.95" />
<line x1="84.36" y1="333.30" x2="84.36" y2="337.20" stroke="#1a1a1a" stroke-width="0.95" />
<line x1="85.25" y1="333.30" x2="85.25" y2="340.70" stroke="#1a1a1a" stroke-width="1.1" />
<line x1="91.07" y1="333.30" x2="91.07" y2="337.20" stroke="#1a1a1a" stroke-width="0.95" />
<line x1="94.48" y1="333.30" x2="94.48" y2="337.20" stroke="#1a1a1a" stroke-width="0.95" />
<line x1="96.90" y1="333.30" x2="96.90" y2="337.20" stroke="#1a1a1a" stroke-width="0.95" />
<line x1="98.78" y1="333.30" x2="98.78" y2="337.20" stroke="#1a1a1a" stroke-width="0.95" />
<line x1="100.31" y1="333.30" x2="100.31" y2="337.20" stroke="#1a1a1a" stroke-width="0.95" />
<line x1="101.60" y1="333.30" x2="101.60" y2="337.20" stroke="#1a1a1a" stroke-width="0.95" />
<line x1="102.72" y1="333.30" x2="102.72" y2="337.20" stroke="#1a1a1a" stroke-width="0.95" />
<line x1="103.71" y1="333.30" x2="103.71" y2="337.20" stroke="#1a1a1a" stroke-width="0.95" />
<line x1="104.60" y1="333.30" x2="104.60" y2="340.70" stroke="#1a1a1a" stroke-width="1.1" />
<line x1="110.42" y1="333.30" x2="110.42" y2="337.20" stroke="#1a1a1a" stroke-width="0.95" />
<line x1="113.83" y1="333.30" x2="113.83" y2="337.20" stroke="#1a1a1a" stroke-width="0.95" />
<line x1="116.25" y1="333.30" x2="116.25" y2="337.20" stroke="#1a1a1a" stroke-width="0.95" />
<line x1="118.13" y1="333.30" x2="118.13" y2="337.20" stroke="#1a1a1a" stroke-width="0.95" />
<line x1="119.66" y1="333.30" x2="119.66" y2="337.20" stroke="#1a1a1a" stroke-width="0.95" />
<line x1="120.95" y1="333.30" x2="120.95" y2="337.20" stroke="#1a1a1a" stroke-width="0.95" />
<line x1="122.07" y1="333.30" x2="122.07" y2="337.20" stroke="#1a1a1a" stroke-width="0.95" />
<line x1="123.06" y1="333.30" x2="123.06" y2="337.20" stroke="#1a1a1a" stroke-width="0.95" />
<line x1="123.95" y1="333.30" x2="123.95" y2="340.70" stroke="#1a1a1a" stroke-width="1.1" />
<line x1="129.77" y1="333.30" x2="129.77" y2="337.20" stroke="#1a1a1a" stroke-width="0.95" />
<line x1="133.18" y1="333.30" x2="133.18" y2="337.20" stroke="#1a1a1a" stroke-width="0.95" />
<line x1="135.60" y1="333.30" x2="135.60" y2="337.20" stroke="#1a1a1a" stroke-width="0.95" />
<line x1="137.48" y1="333.30" x2="137.48" y2="337.20" stroke="#1a1a1a" stroke-width="0.95" />
<line x1="139.01" y1="333.30" x2="139.01" y2="337.20" stroke="#1a1a1a" stroke-width="0.95" />
<line x1="140.30" y1="333.30" x2="140.30" y2="337.20" stroke="#1a1a1a" stroke-width="0.95" />
<line x1="141.42" y1="333.30" x2="141.42" y2="337.20" stroke="#1a1a1a" stroke-width="0.95" />
<line x1="142.41" y1="333.30" x2="142.41" y2="337.20" stroke="#1a1a1a" stroke-width="0.95" />
<line x1="143.30" y1="333.30" x2="143.30" y2="340.70" stroke="#1a1a1a" stroke-width="1.1" />
<text y="352" font-size="10.2" text-anchor="middle" x="47.35">10<tspan font-size="7.5" dx="1.0" dy="-2.9">-3</tspan></text>
<text y="352" font-size="10.2" text-anchor="middle" x="66.70">10<tspan font-size="7.5" dx="1.0" dy="-2.9">-2</tspan></text>
<text y="352" font-size="10.2" text-anchor="middle" x="86.05">10<tspan font-size="7.5" dx="1.0" dy="-2.9">-1</tspan></text>
<text y="352" font-size="10.2" text-anchor="middle" x="105.40">10<tspan font-size="7.5" dx="1.0" dy="-2.9">0</tspan></text>
<text y="352" font-size="10.2" text-anchor="middle" x="124.75">10<tspan font-size="7.5" dx="1.0" dy="-2.9">1</tspan></text>
<text y="352" font-size="10.2" text-anchor="middle" x="144.10">10<tspan font-size="7.5" dx="1.0" dy="-2.9">2</tspan></text>
<text x="92.90" y="370.80" font-size="12.0" text-anchor="middle" font-weight="normal" >Molar ratio</text>
<text x="92.90" y="383.90" font-size="12.0" text-anchor="middle">(nb-hIgG<tspan font-size="8.6" dy="2.6">1</tspan><tspan dy="-2.6">/Api m 1)</tspan></text>
<text x="99.30" y="215.60" font-size="13.8" text-anchor="middle" font-weight="normal" >Patient K</text>
<path d="M46.55,251.19 L48.16,251.19 L49.77,251.19 L51.39,251.19 L53.00,251.19 L54.61,251.19 L56.23,251.18 L57.84,251.18 L59.45,251.18 L61.06,251.18 L62.67,251.17 L64.29,251.17 L65.90,251.16 L67.51,251.16 L69.12,251.15 L70.74,251.15 L72.35,251.14 L73.96,251.13 L75.58,251.12 L77.19,251.11 L78.80,251.10 L80.41,251.09 L82.03,251.08 L83.64,251.06 L85.25,251.04 L86.86,251.02 L88.47,251.00 L90.09,250.97 L91.70,250.94 L93.31,250.91 L94.93,250.87 L96.54,250.83 L98.15,250.78 L99.76,250.73 L101.38,250.68 L102.99,250.61 L104.60,250.55 L106.21,250.47 L107.83,250.39 L109.44,250.31 L111.05,250.21 L112.66,250.11 L114.28,250.01 L115.89,249.90 L117.50,249.78 L119.11,249.66 L120.73,249.54 L122.34,249.41 L123.95,249.28 L125.56,249.16 L127.18,249.03 L128.79,248.90 L130.40,248.77 L132.01,248.65 L133.62,248.54 L135.24,248.42 L136.85,248.32 L138.46,248.22 L140.08,248.12 L141.69,248.03 L143.30,247.95" fill="none" stroke="#3c2b5e" stroke-width="1.25"/>
<path d="M46.55,251.22 L48.16,251.22 L49.77,251.23 L51.39,251.23 L53.00,251.24 L54.61,251.25 L56.23,251.26 L57.84,251.28 L59.45,251.30 L61.06,251.33 L62.67,251.36 L64.29,251.40 L65.90,251.45 L67.51,251.51 L69.12,251.59 L70.74,251.68 L72.35,251.80 L73.96,251.95 L75.58,252.13 L77.19,252.36 L78.80,252.63 L80.41,252.97 L82.03,253.37 L83.64,253.86 L85.25,254.43 L86.86,255.11 L88.47,255.89 L90.09,256.79 L91.70,257.79 L93.31,258.89 L94.93,260.07 L96.54,261.30 L98.15,262.57 L99.76,263.83 L101.38,265.06 L102.99,266.23 L104.60,267.31 L106.21,268.29 L107.83,269.16 L109.44,269.92 L111.05,270.58 L112.66,271.14 L114.28,271.61 L115.89,272.00 L117.50,272.32 L119.11,272.59 L120.73,272.80 L122.34,272.98 L123.95,273.12 L125.56,273.24 L127.18,273.33 L128.79,273.40 L130.40,273.46 L132.01,273.51 L133.62,273.55 L135.24,273.58 L136.85,273.60 L138.46,273.62 L140.08,273.64 L141.69,273.65 L143.30,273.66" fill="none" stroke="#a9c5e8" stroke-width="1.25"/>
<path d="M46.55,251.21 L48.16,251.21 L49.77,251.21 L51.39,251.22 L53.00,251.22 L54.61,251.23 L56.23,251.24 L57.84,251.25 L59.45,251.26 L61.06,251.28 L62.67,251.30 L64.29,251.33 L65.90,251.37 L67.51,251.42 L69.12,251.49 L70.74,251.57 L72.35,251.68 L73.96,251.82 L75.58,251.99 L77.19,252.22 L78.80,252.51 L80.41,252.87 L82.03,253.32 L83.64,253.89 L85.25,254.59 L86.86,255.45 L88.47,256.48 L90.09,257.69 L91.70,259.09 L93.31,260.66 L94.93,262.39 L96.54,264.23 L98.15,266.13 L99.76,268.02 L101.38,269.84 L102.99,271.54 L104.60,273.09 L106.21,274.45 L107.83,275.63 L109.44,276.62 L111.05,277.45 L112.66,278.12 L114.28,278.67 L115.89,279.11 L117.50,279.45 L119.11,279.73 L120.73,279.94 L122.34,280.11 L123.95,280.24 L125.56,280.35 L127.18,280.43 L128.79,280.49 L130.40,280.54 L132.01,280.57 L133.62,280.60 L135.24,280.62 L136.85,280.64 L138.46,280.65 L140.08,280.66 L141.69,280.67 L143.30,280.68" fill="none" stroke="#8dc29c" stroke-width="1.25"/>
<path d="M46.55,251.22 L48.16,251.22 L49.77,251.23 L51.39,251.23 L53.00,251.24 L54.61,251.25 L56.23,251.26 L57.84,251.28 L59.45,251.30 L61.06,251.33 L62.67,251.36 L64.29,251.40 L65.90,251.45 L67.51,251.51 L69.12,251.59 L70.74,251.68 L72.35,251.80 L73.96,251.95 L75.58,252.13 L77.19,252.35 L78.80,252.61 L80.41,252.94 L82.03,253.33 L83.64,253.80 L85.25,254.35 L86.86,255.00 L88.47,255.74 L90.09,256.57 L91.70,257.49 L93.31,258.49 L94.93,259.54 L96.54,260.63 L98.15,261.73 L99.76,262.81 L101.38,263.85 L102.99,264.81 L104.60,265.70 L106.21,266.49 L107.83,267.19 L109.44,267.79 L111.05,268.31 L112.66,268.74 L114.28,269.11 L115.89,269.41 L117.50,269.65 L119.11,269.86 L120.73,270.02 L122.34,270.15 L123.95,270.26 L125.56,270.35 L127.18,270.42 L128.79,270.47 L130.40,270.52 L132.01,270.56 L133.62,270.59 L135.24,270.61 L136.85,270.63 L138.46,270.64 L140.08,270.65 L141.69,270.66 L143.30,270.67" fill="none" stroke="#3a86c8" stroke-width="1.25"/>
<path d="M46.55,250.74 L48.16,250.75 L49.77,250.75 L51.39,250.76 L53.00,250.77 L54.61,250.78 L56.23,250.79 L57.84,250.81 L59.45,250.82 L61.06,250.84 L62.67,250.87 L64.29,250.89 L65.90,250.92 L67.51,250.95 L69.12,250.99 L70.74,251.03 L72.35,251.08 L73.96,251.14 L75.58,251.20 L77.19,251.28 L78.80,251.36 L80.41,251.45 L82.03,251.55 L83.64,251.67 L85.25,251.79 L86.86,251.93 L88.47,252.09 L90.09,252.26 L91.70,252.44 L93.31,252.64 L94.93,252.85 L96.54,253.07 L98.15,253.30 L99.76,253.54 L101.38,253.79 L102.99,254.04 L104.60,254.29 L106.21,254.55 L107.83,254.80 L109.44,255.04 L111.05,255.27 L112.66,255.50 L114.28,255.71 L115.89,255.91 L117.50,256.10 L119.11,256.27 L120.73,256.43 L122.34,256.57 L123.95,256.70 L125.56,256.82 L127.18,256.93 L128.79,257.02 L130.40,257.10 L132.01,257.18 L133.62,257.25 L135.24,257.30 L136.85,257.35 L138.46,257.40 L140.08,257.44 L141.69,257.47 L143.30,257.50" fill="none" stroke="#14994a" stroke-width="1.25"/>
<circle cx="46.55" cy="250.70" r="2.75" fill="#000000"/>
<circle cx="65.90" cy="249.60" r="2.75" fill="#000000"/>
<circle cx="85.25" cy="250.20" r="2.75" fill="#000000"/>
<circle cx="104.60" cy="251.20" r="2.75" fill="#000000"/>
<circle cx="123.95" cy="248.80" r="2.75" fill="#000000"/>
<circle cx="143.30" cy="248.00" r="2.75" fill="#000000"/>
<polygon points="46.55,248.20 49.10,251.20 46.55,254.20 44.00,251.20" fill="#a9c5e8"/>
<polygon points="65.90,248.70 68.45,251.70 65.90,254.70 63.35,251.70" fill="#a9c5e8"/>
<polygon points="85.25,250.70 87.80,253.70 85.25,256.70 82.70,253.70" fill="#a9c5e8"/>
<polygon points="104.60,262.20 107.15,265.20 104.60,268.20 102.05,265.20" fill="#a9c5e8"/>
<polygon points="123.95,269.90 126.50,272.90 123.95,275.90 121.40,272.90" fill="#a9c5e8"/>
<polygon points="143.30,269.20 145.85,272.20 143.30,275.20 140.75,272.20" fill="#a9c5e8"/>
<polygon points="46.55,248.05 49.55,253.60 43.55,253.60" fill="#8dc29c"/>
<polygon points="65.90,248.55 68.90,254.10 62.90,254.10" fill="#8dc29c"/>
<polygon points="85.25,251.05 88.25,256.60 82.25,256.60" fill="#8dc29c"/>
<polygon points="104.60,272.95 107.60,278.50 101.60,278.50" fill="#8dc29c"/>
<polygon points="123.95,276.95 126.95,282.50 120.95,282.50" fill="#8dc29c"/>
<polygon points="143.30,276.65 146.30,282.20 140.30,282.20" fill="#8dc29c"/>
<rect x="43.75" y="249.20" width="5.60" height="5.60" fill="#3a86c8"/>
<rect x="63.10" y="249.40" width="5.60" height="5.60" fill="#3a86c8"/>
<rect x="82.45" y="252.00" width="5.60" height="5.60" fill="#3a86c8"/>
<rect x="101.80" y="263.70" width="5.60" height="5.60" fill="#3a86c8"/>
<rect x="121.15" y="264.50" width="5.60" height="5.60" fill="#3a86c8"/>
<rect x="140.50" y="267.40" width="5.60" height="5.60" fill="#3a86c8"/>
<circle cx="46.55" cy="249.60" r="2.75" fill="#14994a"/>
<circle cx="65.90" cy="251.20" r="2.75" fill="#14994a"/>
<circle cx="85.25" cy="249.20" r="2.75" fill="#14994a"/>
<circle cx="104.60" cy="254.90" r="2.75" fill="#14994a"/>
<circle cx="123.95" cy="252.00" r="2.75" fill="#14994a"/>
<circle cx="143.30" cy="258.50" r="2.75" fill="#14994a"/>
<line x1="175.50" y1="231.85" x2="175.50" y2="333.95" stroke="#1a1a1a" stroke-width="1.1" />
<line x1="168.70" y1="333.40" x2="175.50" y2="333.40" stroke="#1a1a1a" stroke-width="1.1" />
<text x="166.30" y="337.35" font-size="10.2" text-anchor="end" font-weight="normal" >0</text>
<line x1="168.70" y1="313.20" x2="175.50" y2="313.20" stroke="#1a1a1a" stroke-width="1.1" />
<text x="166.30" y="317.15" font-size="10.2" text-anchor="end" font-weight="normal" >20</text>
<line x1="168.70" y1="293.00" x2="175.50" y2="293.00" stroke="#1a1a1a" stroke-width="1.1" />
<text x="166.30" y="296.95" font-size="10.2" text-anchor="end" font-weight="normal" >40</text>
<line x1="168.70" y1="272.80" x2="175.50" y2="272.80" stroke="#1a1a1a" stroke-width="1.1" />
<text x="166.30" y="276.75" font-size="10.2" text-anchor="end" font-weight="normal" >60</text>
<line x1="168.70" y1="252.60" x2="175.50" y2="252.60" stroke="#1a1a1a" stroke-width="1.1" />
<text x="166.30" y="256.55" font-size="10.2" text-anchor="end" font-weight="normal" >80</text>
<line x1="168.70" y1="232.40" x2="175.50" y2="232.40" stroke="#1a1a1a" stroke-width="1.1" />
<text x="166.30" y="236.35" font-size="10.2" text-anchor="end" font-weight="normal" >100</text>
<line x1="174.95" y1="333.40" x2="276.70" y2="333.40" stroke="#1a1a1a" stroke-width="1.1" />
<line x1="175.59" y1="333.40" x2="175.59" y2="337.30" stroke="#1a1a1a" stroke-width="0.95" />
<line x1="177.09" y1="333.40" x2="177.09" y2="337.30" stroke="#1a1a1a" stroke-width="0.95" />
<line x1="178.36" y1="333.40" x2="178.36" y2="337.30" stroke="#1a1a1a" stroke-width="0.95" />
<line x1="179.46" y1="333.40" x2="179.46" y2="337.30" stroke="#1a1a1a" stroke-width="0.95" />
<line x1="180.43" y1="333.40" x2="180.43" y2="337.30" stroke="#1a1a1a" stroke-width="0.95" />
<line x1="181.30" y1="333.40" x2="181.30" y2="340.80" stroke="#1a1a1a" stroke-width="1.1" />
<line x1="187.01" y1="333.40" x2="187.01" y2="337.30" stroke="#1a1a1a" stroke-width="0.95" />
<line x1="190.36" y1="333.40" x2="190.36" y2="337.30" stroke="#1a1a1a" stroke-width="0.95" />
<line x1="192.73" y1="333.40" x2="192.73" y2="337.30" stroke="#1a1a1a" stroke-width="0.95" />
<line x1="194.57" y1="333.40" x2="194.57" y2="337.30" stroke="#1a1a1a" stroke-width="0.95" />
<line x1="196.07" y1="333.40" x2="196.07" y2="337.30" stroke="#1a1a1a" stroke-width="0.95" />
<line x1="197.34" y1="333.40" x2="197.34" y2="337.30" stroke="#1a1a1a" stroke-width="0.95" />
<line x1="198.44" y1="333.40" x2="198.44" y2="337.30" stroke="#1a1a1a" stroke-width="0.95" />
<line x1="199.41" y1="333.40" x2="199.41" y2="337.30" stroke="#1a1a1a" stroke-width="0.95" />
<line x1="200.28" y1="333.40" x2="200.28" y2="340.80" stroke="#1a1a1a" stroke-width="1.1" />
<line x1="205.99" y1="333.40" x2="205.99" y2="337.30" stroke="#1a1a1a" stroke-width="0.95" />
<line x1="209.34" y1="333.40" x2="209.34" y2="337.30" stroke="#1a1a1a" stroke-width="0.95" />
<line x1="211.71" y1="333.40" x2="211.71" y2="337.30" stroke="#1a1a1a" stroke-width="0.95" />
<line x1="213.55" y1="333.40" x2="213.55" y2="337.30" stroke="#1a1a1a" stroke-width="0.95" />
<line x1="215.05" y1="333.40" x2="215.05" y2="337.30" stroke="#1a1a1a" stroke-width="0.95" />
<line x1="216.32" y1="333.40" x2="216.32" y2="337.30" stroke="#1a1a1a" stroke-width="0.95" />
<line x1="217.42" y1="333.40" x2="217.42" y2="337.30" stroke="#1a1a1a" stroke-width="0.95" />
<line x1="218.39" y1="333.40" x2="218.39" y2="337.30" stroke="#1a1a1a" stroke-width="0.95" />
<line x1="219.26" y1="333.40" x2="219.26" y2="340.80" stroke="#1a1a1a" stroke-width="1.1" />
<line x1="224.97" y1="333.40" x2="224.97" y2="337.30" stroke="#1a1a1a" stroke-width="0.95" />
<line x1="228.32" y1="333.40" x2="228.32" y2="337.30" stroke="#1a1a1a" stroke-width="0.95" />
<line x1="230.69" y1="333.40" x2="230.69" y2="337.30" stroke="#1a1a1a" stroke-width="0.95" />
<line x1="232.53" y1="333.40" x2="232.53" y2="337.30" stroke="#1a1a1a" stroke-width="0.95" />
<line x1="234.03" y1="333.40" x2="234.03" y2="337.30" stroke="#1a1a1a" stroke-width="0.95" />
<line x1="235.30" y1="333.40" x2="235.30" y2="337.30" stroke="#1a1a1a" stroke-width="0.95" />
<line x1="236.40" y1="333.40" x2="236.40" y2="337.30" stroke="#1a1a1a" stroke-width="0.95" />
<line x1="237.37" y1="333.40" x2="237.37" y2="337.30" stroke="#1a1a1a" stroke-width="0.95" />
<line x1="238.24" y1="333.40" x2="238.24" y2="340.80" stroke="#1a1a1a" stroke-width="1.1" />
<line x1="243.95" y1="333.40" x2="243.95" y2="337.30" stroke="#1a1a1a" stroke-width="0.95" />
<line x1="247.30" y1="333.40" x2="247.30" y2="337.30" stroke="#1a1a1a" stroke-width="0.95" />
<line x1="249.67" y1="333.40" x2="249.67" y2="337.30" stroke="#1a1a1a" stroke-width="0.95" />
<line x1="251.51" y1="333.40" x2="251.51" y2="337.30" stroke="#1a1a1a" stroke-width="0.95" />
<line x1="253.01" y1="333.40" x2="253.01" y2="337.30" stroke="#1a1a1a" stroke-width="0.95" />
<line x1="254.28" y1="333.40" x2="254.28" y2="337.30" stroke="#1a1a1a" stroke-width="0.95" />
<line x1="255.38" y1="333.40" x2="255.38" y2="337.30" stroke="#1a1a1a" stroke-width="0.95" />
<line x1="256.35" y1="333.40" x2="256.35" y2="337.30" stroke="#1a1a1a" stroke-width="0.95" />
<line x1="257.22" y1="333.40" x2="257.22" y2="340.80" stroke="#1a1a1a" stroke-width="1.1" />
<line x1="262.93" y1="333.40" x2="262.93" y2="337.30" stroke="#1a1a1a" stroke-width="0.95" />
<line x1="266.28" y1="333.40" x2="266.28" y2="337.30" stroke="#1a1a1a" stroke-width="0.95" />
<line x1="268.65" y1="333.40" x2="268.65" y2="337.30" stroke="#1a1a1a" stroke-width="0.95" />
<line x1="270.49" y1="333.40" x2="270.49" y2="337.30" stroke="#1a1a1a" stroke-width="0.95" />
<line x1="271.99" y1="333.40" x2="271.99" y2="337.30" stroke="#1a1a1a" stroke-width="0.95" />
<line x1="273.26" y1="333.40" x2="273.26" y2="337.30" stroke="#1a1a1a" stroke-width="0.95" />
<line x1="274.36" y1="333.40" x2="274.36" y2="337.30" stroke="#1a1a1a" stroke-width="0.95" />
<line x1="275.33" y1="333.40" x2="275.33" y2="337.30" stroke="#1a1a1a" stroke-width="0.95" />
<line x1="276.20" y1="333.40" x2="276.20" y2="340.80" stroke="#1a1a1a" stroke-width="1.1" />
<text y="352" font-size="10.2" text-anchor="middle" x="182.10">10<tspan font-size="7.5" dx="1.0" dy="-2.9">-3</tspan></text>
<text y="352" font-size="10.2" text-anchor="middle" x="201.08">10<tspan font-size="7.5" dx="1.0" dy="-2.9">-2</tspan></text>
<text y="352" font-size="10.2" text-anchor="middle" x="220.06">10<tspan font-size="7.5" dx="1.0" dy="-2.9">-1</tspan></text>
<text y="352" font-size="10.2" text-anchor="middle" x="239.04">10<tspan font-size="7.5" dx="1.0" dy="-2.9">0</tspan></text>
<text y="352" font-size="10.2" text-anchor="middle" x="258.02">10<tspan font-size="7.5" dx="1.0" dy="-2.9">1</tspan></text>
<text y="352" font-size="10.2" text-anchor="middle" x="277.00">10<tspan font-size="7.5" dx="1.0" dy="-2.9">2</tspan></text>
<text x="225.85" y="370.90" font-size="12.0" text-anchor="middle" font-weight="normal" >Molar ratio</text>
<text x="225.85" y="384.00" font-size="12.0" text-anchor="middle">(nb-hIgG<tspan font-size="8.6" dy="2.6">1</tspan><tspan dy="-2.6">/Api m 1)</tspan></text>
<text x="227.00" y="215.60" font-size="13.8" text-anchor="middle" font-weight="normal" >Patient L</text>
<path d="M181.20,276.20 L182.78,276.20 L184.36,276.20 L185.94,276.20 L187.52,276.20 L189.10,276.20 L190.68,276.20 L192.26,276.20 L193.84,276.20 L195.42,276.20 L197.00,276.20 L198.58,276.20 L200.16,276.20 L201.74,276.20 L203.32,276.20 L204.90,276.20 L206.48,276.20 L208.06,276.20 L209.64,276.20 L211.22,276.20 L212.80,276.20 L214.38,276.20 L215.96,276.20 L217.54,276.20 L219.12,276.20 L220.70,276.20 L222.28,276.20 L223.86,276.20 L225.44,276.20 L227.02,276.19 L228.60,276.19 L230.18,276.19 L231.76,276.19 L233.34,276.18 L234.92,276.18 L236.50,276.17 L238.08,276.17 L239.66,276.16 L241.24,276.15 L242.82,276.13 L244.40,276.12 L245.98,276.09 L247.56,276.07 L249.14,276.03 L250.72,275.99 L252.30,275.94 L253.88,275.87 L255.46,275.79 L257.04,275.70 L258.62,275.59 L260.20,275.45 L261.78,275.30 L263.36,275.12 L264.94,274.92 L266.52,274.71 L268.10,274.48 L269.68,274.25 L271.26,274.01 L272.84,273.78 L274.42,273.56 L276.00,273.36" fill="none" stroke="#3c2b5e" stroke-width="1.25"/>
<path d="M181.20,274.21 L182.78,274.22 L184.36,274.22 L185.94,274.23 L187.52,274.23 L189.10,274.24 L190.68,274.26 L192.26,274.27 L193.84,274.29 L195.42,274.31 L197.00,274.34 L198.58,274.38 L200.16,274.43 L201.74,274.49 L203.32,274.56 L204.90,274.65 L206.48,274.77 L208.06,274.91 L209.64,275.09 L211.22,275.30 L212.80,275.56 L214.38,275.87 L215.96,276.23 L217.54,276.66 L219.12,277.14 L220.70,277.68 L222.28,278.28 L223.86,278.91 L225.44,279.56 L227.02,280.23 L228.60,280.88 L230.18,281.50 L231.76,282.08 L233.34,282.61 L234.92,283.07 L236.50,283.48 L238.08,283.83 L239.66,284.12 L241.24,284.37 L242.82,284.57 L244.40,284.73 L245.98,284.87 L247.56,284.98 L249.14,285.06 L250.72,285.13 L252.30,285.19 L253.88,285.23 L255.46,285.27 L257.04,285.29 L258.62,285.32 L260.20,285.33 L261.78,285.35 L263.36,285.36 L264.94,285.37 L266.52,285.37 L268.10,285.38 L269.68,285.38 L271.26,285.39 L272.84,285.39 L274.42,285.39 L276.00,285.39" fill="none" stroke="#a9c5e8" stroke-width="1.25"/>
<path d="M181.20,275.21 L182.78,275.22 L184.36,275.22 L185.94,275.23 L187.52,275.24 L189.10,275.25 L190.68,275.26 L192.26,275.27 L193.84,275.29 L195.42,275.32 L197.00,275.35 L198.58,275.39 L200.16,275.43 L201.74,275.49 L203.32,275.57 L204.90,275.67 L206.48,275.78 L208.06,275.93 L209.64,276.11 L211.22,276.33 L212.80,276.60 L214.38,276.91 L215.96,277.29 L217.54,277.72 L219.12,278.22 L220.70,278.78 L222.28,279.39 L223.86,280.03 L225.44,280.71 L227.02,281.39 L228.60,282.06 L230.18,282.70 L231.76,283.29 L233.34,283.83 L234.92,284.31 L236.50,284.73 L238.08,285.09 L239.66,285.39 L241.24,285.64 L242.82,285.85 L244.40,286.02 L245.98,286.15 L247.56,286.26 L249.14,286.35 L250.72,286.42 L252.30,286.48 L253.88,286.53 L255.46,286.56 L257.04,286.59 L258.62,286.61 L260.20,286.63 L261.78,286.65 L263.36,286.66 L264.94,286.67 L266.52,286.67 L268.10,286.68 L269.68,286.68 L271.26,286.69 L272.84,286.69 L274.42,286.69 L276.00,286.69" fill="none" stroke="#8dc29c" stroke-width="1.25"/>
<path d="M181.20,272.75 L182.78,272.76 L184.36,272.77 L185.94,272.79 L187.52,272.81 L189.10,272.84 L190.68,272.87 L192.26,272.91 L193.84,272.96 L195.42,273.03 L197.00,273.11 L198.58,273.21 L200.16,273.33 L201.74,273.48 L203.32,273.66 L204.90,273.89 L206.48,274.16 L208.06,274.49 L209.64,274.89 L211.22,275.36 L212.80,275.92 L214.38,276.57 L215.96,277.32 L217.54,278.17 L219.12,279.11 L220.70,280.13 L222.28,281.22 L223.86,282.36 L225.44,283.52 L227.02,284.67 L228.60,285.79 L230.18,286.85 L231.76,287.83 L233.34,288.72 L234.92,289.51 L236.50,290.20 L238.08,290.80 L239.66,291.31 L241.24,291.74 L242.82,292.10 L244.40,292.40 L245.98,292.64 L247.56,292.84 L249.14,293.01 L250.72,293.14 L252.30,293.25 L253.88,293.34 L255.46,293.41 L257.04,293.47 L258.62,293.51 L260.20,293.55 L261.78,293.58 L263.36,293.60 L264.94,293.62 L266.52,293.64 L268.10,293.65 L269.68,293.66 L271.26,293.67 L272.84,293.67 L274.42,293.68 L276.00,293.68" fill="none" stroke="#3a86c8" stroke-width="1.25"/>
<path d="M181.20,276.40 L182.78,276.40 L184.36,276.40 L185.94,276.40 L187.52,276.41 L189.10,276.41 L190.68,276.41 L192.26,276.41 L193.84,276.41 L195.42,276.41 L197.00,276.41 L198.58,276.42 L200.16,276.42 L201.74,276.42 L203.32,276.43 L204.90,276.43 L206.48,276.44 L208.06,276.44 L209.64,276.45 L211.22,276.46 L212.80,276.47 L214.38,276.48 L215.96,276.49 L217.54,276.51 L219.12,276.53 L220.70,276.55 L222.28,276.57 L223.86,276.59 L225.44,276.62 L227.02,276.66 L228.60,276.69 L230.18,276.73 L231.76,276.78 L233.34,276.83 L234.92,276.88 L236.50,276.94 L238.08,277.00 L239.66,277.07 L241.24,277.13 L242.82,277.20 L244.40,277.27 L245.98,277.34 L247.56,277.41 L249.14,277.48 L250.72,277.55 L252.30,277.61 L253.88,277.68 L255.46,277.73 L257.04,277.78 L258.62,277.83 L260.20,277.88 L261.78,277.92 L263.36,277.95 L264.94,277.98 L266.52,278.01 L268.10,278.04 L269.68,278.06 L271.26,278.08 L272.84,278.10 L274.42,278.11 L276.00,278.12" fill="none" stroke="#14994a" stroke-width="1.25"/>
<circle cx="181.20" cy="276.20" r="2.75" fill="#000000"/>
<circle cx="200.10" cy="275.70" r="2.75" fill="#000000"/>
<circle cx="219.10" cy="276.70" r="2.75" fill="#000000"/>
<circle cx="238.20" cy="276.20" r="2.75" fill="#000000"/>
<circle cx="257.10" cy="275.40" r="2.75" fill="#000000"/>
<circle cx="276.00" cy="272.70" r="2.75" fill="#000000"/>
<polygon points="181.20,271.20 183.75,274.20 181.20,277.20 178.65,274.20" fill="#a9c5e8"/>
<polygon points="200.10,272.20 202.65,275.20 200.10,278.20 197.55,275.20" fill="#a9c5e8"/>
<polygon points="219.10,274.70 221.65,277.70 219.10,280.70 216.55,277.70" fill="#a9c5e8"/>
<polygon points="238.20,282.20 240.75,285.20 238.20,288.20 235.65,285.20" fill="#a9c5e8"/>
<polygon points="257.10,283.20 259.65,286.20 257.10,289.20 254.55,286.20" fill="#a9c5e8"/>
<polygon points="276.00,282.70 278.55,285.70 276.00,288.70 273.45,285.70" fill="#a9c5e8"/>
<polygon points="181.20,272.05 184.20,277.60 178.20,277.60" fill="#8dc29c"/>
<polygon points="200.10,272.55 203.10,278.10 197.10,278.10" fill="#8dc29c"/>
<polygon points="219.10,275.05 222.10,280.60 216.10,280.60" fill="#8dc29c"/>
<polygon points="238.20,284.05 241.20,289.60 235.20,289.60" fill="#8dc29c"/>
<polygon points="257.10,282.85 260.10,288.40 254.10,288.40" fill="#8dc29c"/>
<polygon points="276.00,281.85 279.00,287.40 273.00,287.40" fill="#8dc29c"/>
<rect x="178.40" y="269.40" width="5.60" height="5.60" fill="#3a86c8"/>
<rect x="197.30" y="271.50" width="5.60" height="5.60" fill="#3a86c8"/>
<rect x="216.30" y="275.80" width="5.60" height="5.60" fill="#3a86c8"/>
<rect x="235.40" y="287.70" width="5.60" height="5.60" fill="#3a86c8"/>
<rect x="254.30" y="289.50" width="5.60" height="5.60" fill="#3a86c8"/>
<rect x="273.20" y="291.10" width="5.60" height="5.60" fill="#3a86c8"/>
<circle cx="181.20" cy="276.20" r="2.75" fill="#14994a"/>
<circle cx="200.10" cy="277.40" r="2.75" fill="#14994a"/>
<circle cx="219.10" cy="276.60" r="2.75" fill="#14994a"/>
<circle cx="238.20" cy="276.20" r="2.75" fill="#14994a"/>
<circle cx="257.10" cy="280.20" r="2.75" fill="#14994a"/>
<circle cx="276.00" cy="277.80" r="2.75" fill="#14994a"/>
<line x1="310.80" y1="230.05" x2="310.80" y2="331.75" stroke="#1a1a1a" stroke-width="1.1" />
<line x1="304.00" y1="331.20" x2="310.80" y2="331.20" stroke="#1a1a1a" stroke-width="1.1" />
<text x="301.60" y="335.15" font-size="10.2" text-anchor="end" font-weight="normal" >0</text>
<line x1="304.00" y1="311.08" x2="310.80" y2="311.08" stroke="#1a1a1a" stroke-width="1.1" />
<text x="301.60" y="315.03" font-size="10.2" text-anchor="end" font-weight="normal" >20</text>
<line x1="304.00" y1="290.96" x2="310.80" y2="290.96" stroke="#1a1a1a" stroke-width="1.1" />
<text x="301.60" y="294.91" font-size="10.2" text-anchor="end" font-weight="normal" >40</text>
<line x1="304.00" y1="270.84" x2="310.80" y2="270.84" stroke="#1a1a1a" stroke-width="1.1" />
<text x="301.60" y="274.79" font-size="10.2" text-anchor="end" font-weight="normal" >60</text>
<line x1="304.00" y1="250.72" x2="310.80" y2="250.72" stroke="#1a1a1a" stroke-width="1.1" />
<text x="301.60" y="254.67" font-size="10.2" text-anchor="end" font-weight="normal" >80</text>
<line x1="304.00" y1="230.60" x2="310.80" y2="230.60" stroke="#1a1a1a" stroke-width="1.1" />
<text x="301.60" y="234.55" font-size="10.2" text-anchor="end" font-weight="normal" >100</text>
<line x1="310.25" y1="331.20" x2="412.70" y2="331.20" stroke="#1a1a1a" stroke-width="1.1" />
<line x1="313.81" y1="331.20" x2="313.81" y2="335.10" stroke="#1a1a1a" stroke-width="0.95" />
<line x1="316.20" y1="331.20" x2="316.20" y2="335.10" stroke="#1a1a1a" stroke-width="0.95" />
<line x1="318.05" y1="331.20" x2="318.05" y2="335.10" stroke="#1a1a1a" stroke-width="0.95" />
<line x1="319.56" y1="331.20" x2="319.56" y2="335.10" stroke="#1a1a1a" stroke-width="0.95" />
<line x1="320.84" y1="331.20" x2="320.84" y2="335.10" stroke="#1a1a1a" stroke-width="0.95" />
<line x1="321.95" y1="331.20" x2="321.95" y2="335.10" stroke="#1a1a1a" stroke-width="0.95" />
<line x1="322.93" y1="331.20" x2="322.93" y2="335.10" stroke="#1a1a1a" stroke-width="0.95" />
<line x1="323.80" y1="331.20" x2="323.80" y2="338.60" stroke="#1a1a1a" stroke-width="1.1" />
<line x1="329.55" y1="331.20" x2="329.55" y2="335.10" stroke="#1a1a1a" stroke-width="0.95" />
<line x1="332.91" y1="331.20" x2="332.91" y2="335.10" stroke="#1a1a1a" stroke-width="0.95" />
<line x1="335.30" y1="331.20" x2="335.30" y2="335.10" stroke="#1a1a1a" stroke-width="0.95" />
<line x1="337.15" y1="331.20" x2="337.15" y2="335.10" stroke="#1a1a1a" stroke-width="0.95" />
<line x1="338.66" y1="331.20" x2="338.66" y2="335.10" stroke="#1a1a1a" stroke-width="0.95" />
<line x1="339.94" y1="331.20" x2="339.94" y2="335.10" stroke="#1a1a1a" stroke-width="0.95" />
<line x1="341.05" y1="331.20" x2="341.05" y2="335.10" stroke="#1a1a1a" stroke-width="0.95" />
<line x1="342.03" y1="331.20" x2="342.03" y2="335.10" stroke="#1a1a1a" stroke-width="0.95" />
<line x1="342.90" y1="331.20" x2="342.90" y2="338.60" stroke="#1a1a1a" stroke-width="1.1" />
<line x1="348.65" y1="331.20" x2="348.65" y2="335.10" stroke="#1a1a1a" stroke-width="0.95" />
<line x1="352.01" y1="331.20" x2="352.01" y2="335.10" stroke="#1a1a1a" stroke-width="0.95" />
<line x1="354.40" y1="331.20" x2="354.40" y2="335.10" stroke="#1a1a1a" stroke-width="0.95" />
<line x1="356.25" y1="331.20" x2="356.25" y2="335.10" stroke="#1a1a1a" stroke-width="0.95" />
<line x1="357.76" y1="331.20" x2="357.76" y2="335.10" stroke="#1a1a1a" stroke-width="0.95" />
<line x1="359.04" y1="331.20" x2="359.04" y2="335.10" stroke="#1a1a1a" stroke-width="0.95" />
<line x1="360.15" y1="331.20" x2="360.15" y2="335.10" stroke="#1a1a1a" stroke-width="0.95" />
<line x1="361.13" y1="331.20" x2="361.13" y2="335.10" stroke="#1a1a1a" stroke-width="0.95" />
<line x1="362.00" y1="331.20" x2="362.00" y2="338.60" stroke="#1a1a1a" stroke-width="1.1" />
<line x1="367.75" y1="331.20" x2="367.75" y2="335.10" stroke="#1a1a1a" stroke-width="0.95" />
<line x1="371.11" y1="331.20" x2="371.11" y2="335.10" stroke="#1a1a1a" stroke-width="0.95" />
<line x1="373.50" y1="331.20" x2="373.50" y2="335.10" stroke="#1a1a1a" stroke-width="0.95" />
<line x1="375.35" y1="331.20" x2="375.35" y2="335.10" stroke="#1a1a1a" stroke-width="0.95" />
<line x1="376.86" y1="331.20" x2="376.86" y2="335.10" stroke="#1a1a1a" stroke-width="0.95" />
<line x1="378.14" y1="331.20" x2="378.14" y2="335.10" stroke="#1a1a1a" stroke-width="0.95" />
<line x1="379.25" y1="331.20" x2="379.25" y2="335.10" stroke="#1a1a1a" stroke-width="0.95" />
<line x1="380.23" y1="331.20" x2="380.23" y2="335.10" stroke="#1a1a1a" stroke-width="0.95" />
<line x1="381.10" y1="331.20" x2="381.10" y2="338.60" stroke="#1a1a1a" stroke-width="1.1" />
<line x1="386.85" y1="331.20" x2="386.85" y2="335.10" stroke="#1a1a1a" stroke-width="0.95" />
<line x1="390.21" y1="331.20" x2="390.21" y2="335.10" stroke="#1a1a1a" stroke-width="0.95" />
<line x1="392.60" y1="331.20" x2="392.60" y2="335.10" stroke="#1a1a1a" stroke-width="0.95" />
<line x1="394.45" y1="331.20" x2="394.45" y2="335.10" stroke="#1a1a1a" stroke-width="0.95" />
<line x1="395.96" y1="331.20" x2="395.96" y2="335.10" stroke="#1a1a1a" stroke-width="0.95" />
<line x1="397.24" y1="331.20" x2="397.24" y2="335.10" stroke="#1a1a1a" stroke-width="0.95" />
<line x1="398.35" y1="331.20" x2="398.35" y2="335.10" stroke="#1a1a1a" stroke-width="0.95" />
<line x1="399.33" y1="331.20" x2="399.33" y2="335.10" stroke="#1a1a1a" stroke-width="0.95" />
<line x1="400.20" y1="331.20" x2="400.20" y2="338.60" stroke="#1a1a1a" stroke-width="1.1" />
<line x1="405.95" y1="331.20" x2="405.95" y2="335.10" stroke="#1a1a1a" stroke-width="0.95" />
<line x1="409.31" y1="331.20" x2="409.31" y2="335.10" stroke="#1a1a1a" stroke-width="0.95" />
<line x1="411.70" y1="331.20" x2="411.70" y2="335.10" stroke="#1a1a1a" stroke-width="0.95" />
<text y="350" font-size="10.2" text-anchor="middle" x="324.60">10<tspan font-size="7.5" dx="1.0" dy="-2.9">-2</tspan></text>
<text y="350" font-size="10.2" text-anchor="middle" x="343.70">10<tspan font-size="7.5" dx="1.0" dy="-2.9">-1</tspan></text>
<text y="350" font-size="10.2" text-anchor="middle" x="362.80">10<tspan font-size="7.5" dx="1.0" dy="-2.9">0</tspan></text>
<text y="350" font-size="10.2" text-anchor="middle" x="381.90">10<tspan font-size="7.5" dx="1.0" dy="-2.9">1</tspan></text>
<text y="350" font-size="10.2" text-anchor="middle" x="401.00">10<tspan font-size="7.5" dx="1.0" dy="-2.9">2</tspan></text>
<text x="361.50" y="368.70" font-size="12.0" text-anchor="middle" font-weight="normal" >Molar ratio</text>
<text x="361.50" y="381.80" font-size="12.0" text-anchor="middle">(nb-hIgG<tspan font-size="8.6" dy="2.6">1</tspan><tspan dy="-2.6">/Api m 1)</tspan></text>
<text x="362.60" y="215.60" font-size="13.8" text-anchor="middle" font-weight="normal" >Patient M</text>
<path d="M314.20,238.19 L315.80,238.19 L317.40,238.19 L319.00,238.19 L320.60,238.19 L322.20,238.19 L323.80,238.18 L325.40,238.18 L327.00,238.17 L328.60,238.17 L330.20,238.16 L331.80,238.15 L333.40,238.14 L335.00,238.13 L336.60,238.12 L338.20,238.10 L339.80,238.08 L341.40,238.06 L343.00,238.03 L344.60,238.00 L346.20,237.96 L347.80,237.92 L349.40,237.87 L351.00,237.81 L352.60,237.74 L354.20,237.66 L355.80,237.58 L357.40,237.48 L359.00,237.38 L360.60,237.27 L362.20,237.16 L363.80,237.04 L365.40,236.92 L367.00,236.80 L368.60,236.68 L370.20,236.57 L371.80,236.47 L373.40,236.37 L375.00,236.28 L376.60,236.20 L378.20,236.13 L379.80,236.06 L381.40,236.01 L383.00,235.96 L384.60,235.92 L386.20,235.88 L387.80,235.85 L389.40,235.83 L391.00,235.81 L392.60,235.79 L394.20,235.77 L395.80,235.76 L397.40,235.75 L399.00,235.74 L400.60,235.73 L402.20,235.73 L403.80,235.72 L405.40,235.72 L407.00,235.72 L408.60,235.71 L410.20,235.71" fill="none" stroke="#3c2b5e" stroke-width="1.25"/>
<path d="M314.20,237.90 L315.80,237.90 L317.40,237.90 L319.00,237.90 L320.60,237.90 L322.20,237.90 L323.80,237.90 L325.40,237.90 L327.00,237.90 L328.60,237.90 L330.20,237.90 L331.80,237.90 L333.40,237.90 L335.00,237.90 L336.60,237.90 L338.20,237.90 L339.80,237.90 L341.40,237.90 L343.00,237.90 L344.60,237.90 L346.20,237.90 L347.80,237.90 L349.40,237.90 L351.00,237.90 L352.60,237.90 L354.20,237.90 L355.80,237.90 L357.40,237.90 L359.00,237.90 L360.60,237.90 L362.20,237.90 L363.80,237.90 L365.40,237.90 L367.00,237.90 L368.60,237.90 L370.20,237.90 L371.80,237.90 L373.40,237.90 L375.00,237.90 L376.60,237.90 L378.20,237.90 L379.80,237.90 L381.40,237.90 L383.00,237.90 L384.60,237.90 L386.20,237.90 L387.80,237.90 L389.40,237.90 L391.00,237.90 L392.60,237.90 L394.20,237.90 L395.80,237.90 L397.40,237.90 L399.00,237.90 L400.60,237.90 L402.20,237.90 L403.80,237.90 L405.40,237.90 L407.00,237.90 L408.60,237.90 L410.20,237.90" fill="none" stroke="#a9c5e8" stroke-width="1.25"/>
<path d="M314.20,238.70 L315.80,238.70 L317.40,238.70 L319.00,238.70 L320.60,238.70 L322.20,238.70 L323.80,238.70 L325.40,238.70 L327.00,238.70 L328.60,238.70 L330.20,238.70 L331.80,238.70 L333.40,238.70 L335.00,238.70 L336.60,238.70 L338.20,238.70 L339.80,238.70 L341.40,238.70 L343.00,238.70 L344.60,238.70 L346.20,238.70 L347.80,238.70 L349.40,238.70 L351.00,238.70 L352.60,238.70 L354.20,238.70 L355.80,238.70 L357.40,238.70 L359.00,238.70 L360.60,238.70 L362.20,238.70 L363.80,238.70 L365.40,238.70 L367.00,238.70 L368.60,238.70 L370.20,238.70 L371.80,238.70 L373.40,238.70 L375.00,238.70 L376.60,238.70 L378.20,238.70 L379.80,238.70 L381.40,238.70 L383.00,238.70 L384.60,238.70 L386.20,238.70 L387.80,238.70 L389.40,238.70 L391.00,238.70 L392.60,238.70 L394.20,238.70 L395.80,238.70 L397.40,238.70 L399.00,238.70 L400.60,238.70 L402.20,238.70 L403.80,238.70 L405.40,238.70 L407.00,238.70 L408.60,238.70 L410.20,238.70" fill="none" stroke="#8dc29c" stroke-width="1.25"/>
<path d="M314.20,238.60 L315.80,238.60 L317.40,238.60 L319.00,238.60 L320.60,238.60 L322.20,238.60 L323.80,238.60 L325.40,238.60 L327.00,238.60 L328.60,238.60 L330.20,238.60 L331.80,238.60 L333.40,238.60 L335.00,238.60 L336.60,238.60 L338.20,238.60 L339.80,238.60 L341.40,238.60 L343.00,238.60 L344.60,238.60 L346.20,238.60 L347.80,238.60 L349.40,238.60 L351.00,238.60 L352.60,238.60 L354.20,238.60 L355.80,238.60 L357.40,238.60 L359.00,238.60 L360.60,238.60 L362.20,238.60 L363.80,238.60 L365.40,238.60 L367.00,238.60 L368.60,238.60 L370.20,238.60 L371.80,238.60 L373.40,238.60 L375.00,238.60 L376.60,238.60 L378.20,238.60 L379.80,238.60 L381.40,238.60 L383.00,238.60 L384.60,238.60 L386.20,238.60 L387.80,238.60 L389.40,238.60 L391.00,238.60 L392.60,238.60 L394.20,238.60 L395.80,238.60 L397.40,238.60 L399.00,238.60 L400.60,238.60 L402.20,238.60 L403.80,238.60 L405.40,238.60 L407.00,238.60 L408.60,238.60 L410.20,238.60" fill="none" stroke="#3a86c8" stroke-width="1.25"/>
<path d="M314.20,238.03 L315.80,238.08 L317.40,238.15 L319.00,238.23 L320.60,238.31 L322.20,238.40 L323.80,238.51 L325.40,238.61 L327.00,238.73 L328.60,238.85 L330.20,238.96 L331.80,239.08 L333.40,239.20 L335.00,239.31 L336.60,239.42 L338.20,239.52 L339.80,239.61 L341.40,239.69 L343.00,239.77 L344.60,239.83 L346.20,239.89 L347.80,239.94 L349.40,239.98 L351.00,240.01 L352.60,240.04 L354.20,240.07 L355.80,240.09 L357.40,240.11 L359.00,240.13 L360.60,240.14 L362.20,240.15 L363.80,240.16 L365.40,240.16 L367.00,240.17 L368.60,240.18 L370.20,240.18 L371.80,240.18 L373.40,240.19 L375.00,240.19 L376.60,240.19 L378.20,240.19 L379.80,240.19 L381.40,240.19 L383.00,240.20 L384.60,240.20 L386.20,240.20 L387.80,240.20 L389.40,240.20 L391.00,240.20 L392.60,240.20 L394.20,240.20 L395.80,240.20 L397.40,240.20 L399.00,240.20 L400.60,240.20 L402.20,240.20 L403.80,240.20 L405.40,240.20 L407.00,240.20 L408.60,240.20 L410.20,240.20" fill="none" stroke="#14994a" stroke-width="1.25"/>
<circle cx="314.20" cy="237.70" r="2.75" fill="#000000"/>
<circle cx="333.60" cy="238.70" r="2.75" fill="#000000"/>
<circle cx="352.90" cy="238.20" r="2.75" fill="#000000"/>
<circle cx="372.10" cy="233.80" r="2.75" fill="#000000"/>
<circle cx="391.20" cy="235.90" r="2.75" fill="#000000"/>
<circle cx="410.20" cy="235.20" r="2.75" fill="#000000"/>
<polygon points="314.20,235.20 316.75,238.20 314.20,241.20 311.65,238.20" fill="#a9c5e8"/>
<polygon points="333.60,235.20 336.15,238.20 333.60,241.20 331.05,238.20" fill="#a9c5e8"/>
<polygon points="352.90,232.40 355.45,235.40 352.90,238.40 350.35,235.40" fill="#a9c5e8"/>
<polygon points="372.10,235.20 374.65,238.20 372.10,241.20 369.55,238.20" fill="#a9c5e8"/>
<polygon points="391.20,235.20 393.75,238.20 391.20,241.20 388.65,238.20" fill="#a9c5e8"/>
<polygon points="410.20,235.20 412.75,238.20 410.20,241.20 407.65,238.20" fill="#a9c5e8"/>
<polygon points="314.20,236.05 317.20,241.60 311.20,241.60" fill="#8dc29c"/>
<polygon points="333.60,237.55 336.60,243.10 330.60,243.10" fill="#8dc29c"/>
<polygon points="352.90,235.05 355.90,240.60 349.90,240.60" fill="#8dc29c"/>
<polygon points="372.10,235.05 375.10,240.60 369.10,240.60" fill="#8dc29c"/>
<polygon points="391.20,235.05 394.20,240.60 388.20,240.60" fill="#8dc29c"/>
<polygon points="410.20,235.05 413.20,240.60 407.20,240.60" fill="#8dc29c"/>
<rect x="311.40" y="236.10" width="5.60" height="5.60" fill="#3a86c8"/>
<rect x="330.80" y="235.90" width="5.60" height="5.60" fill="#3a86c8"/>
<rect x="350.10" y="235.40" width="5.60" height="5.60" fill="#3a86c8"/>
<rect x="369.30" y="235.80" width="5.60" height="5.60" fill="#3a86c8"/>
<rect x="388.40" y="235.90" width="5.60" height="5.60" fill="#3a86c8"/>
<rect x="407.40" y="238.40" width="5.60" height="5.60" fill="#3a86c8"/>
<circle cx="314.20" cy="236.60" r="2.75" fill="#14994a"/>
<circle cx="333.60" cy="239.10" r="2.75" fill="#14994a"/>
<circle cx="352.90" cy="240.30" r="2.75" fill="#14994a"/>
<circle cx="372.10" cy="241.90" r="2.75" fill="#14994a"/>
<circle cx="391.20" cy="241.10" r="2.75" fill="#14994a"/>
<circle cx="410.20" cy="236.70" r="2.75" fill="#14994a"/>
<line x1="448.70" y1="232.45" x2="448.70" y2="334.05" stroke="#1a1a1a" stroke-width="1.1" />
<line x1="441.90" y1="333.50" x2="448.70" y2="333.50" stroke="#1a1a1a" stroke-width="1.1" />
<text x="439.50" y="337.45" font-size="10.2" text-anchor="end" font-weight="normal" >0</text>
<line x1="441.90" y1="313.40" x2="448.70" y2="313.40" stroke="#1a1a1a" stroke-width="1.1" />
<text x="439.50" y="317.35" font-size="10.2" text-anchor="end" font-weight="normal" >20</text>
<line x1="441.90" y1="293.30" x2="448.70" y2="293.30" stroke="#1a1a1a" stroke-width="1.1" />
<text x="439.50" y="297.25" font-size="10.2" text-anchor="end" font-weight="normal" >40</text>
<line x1="441.90" y1="273.20" x2="448.70" y2="273.20" stroke="#1a1a1a" stroke-width="1.1" />
<text x="439.50" y="277.15" font-size="10.2" text-anchor="end" font-weight="normal" >60</text>
<line x1="441.90" y1="253.10" x2="448.70" y2="253.10" stroke="#1a1a1a" stroke-width="1.1" />
<text x="439.50" y="257.05" font-size="10.2" text-anchor="end" font-weight="normal" >80</text>
<line x1="441.90" y1="233.00" x2="448.70" y2="233.00" stroke="#1a1a1a" stroke-width="1.1" />
<text x="439.50" y="236.95" font-size="10.2" text-anchor="end" font-weight="normal" >100</text>
<line x1="448.15" y1="333.50" x2="550.40" y2="333.50" stroke="#1a1a1a" stroke-width="1.1" />
<line x1="449.96" y1="333.50" x2="449.96" y2="337.40" stroke="#1a1a1a" stroke-width="0.95" />
<line x1="451.24" y1="333.50" x2="451.24" y2="337.40" stroke="#1a1a1a" stroke-width="0.95" />
<line x1="452.35" y1="333.50" x2="452.35" y2="337.40" stroke="#1a1a1a" stroke-width="0.95" />
<line x1="453.33" y1="333.50" x2="453.33" y2="337.40" stroke="#1a1a1a" stroke-width="0.95" />
<line x1="454.20" y1="333.50" x2="454.20" y2="340.90" stroke="#1a1a1a" stroke-width="1.1" />
<line x1="459.95" y1="333.50" x2="459.95" y2="337.40" stroke="#1a1a1a" stroke-width="0.95" />
<line x1="463.31" y1="333.50" x2="463.31" y2="337.40" stroke="#1a1a1a" stroke-width="0.95" />
<line x1="465.70" y1="333.50" x2="465.70" y2="337.40" stroke="#1a1a1a" stroke-width="0.95" />
<line x1="467.55" y1="333.50" x2="467.55" y2="337.40" stroke="#1a1a1a" stroke-width="0.95" />
<line x1="469.06" y1="333.50" x2="469.06" y2="337.40" stroke="#1a1a1a" stroke-width="0.95" />
<line x1="470.34" y1="333.50" x2="470.34" y2="337.40" stroke="#1a1a1a" stroke-width="0.95" />
<line x1="471.45" y1="333.50" x2="471.45" y2="337.40" stroke="#1a1a1a" stroke-width="0.95" />
<line x1="472.43" y1="333.50" x2="472.43" y2="337.40" stroke="#1a1a1a" stroke-width="0.95" />
<line x1="473.30" y1="333.50" x2="473.30" y2="340.90" stroke="#1a1a1a" stroke-width="1.1" />
<line x1="479.05" y1="333.50" x2="479.05" y2="337.40" stroke="#1a1a1a" stroke-width="0.95" />
<line x1="482.41" y1="333.50" x2="482.41" y2="337.40" stroke="#1a1a1a" stroke-width="0.95" />
<line x1="484.80" y1="333.50" x2="484.80" y2="337.40" stroke="#1a1a1a" stroke-width="0.95" />
<line x1="486.65" y1="333.50" x2="486.65" y2="337.40" stroke="#1a1a1a" stroke-width="0.95" />
<line x1="488.16" y1="333.50" x2="488.16" y2="337.40" stroke="#1a1a1a" stroke-width="0.95" />
<line x1="489.44" y1="333.50" x2="489.44" y2="337.40" stroke="#1a1a1a" stroke-width="0.95" />
<line x1="490.55" y1="333.50" x2="490.55" y2="337.40" stroke="#1a1a1a" stroke-width="0.95" />
<line x1="491.53" y1="333.50" x2="491.53" y2="337.40" stroke="#1a1a1a" stroke-width="0.95" />
<line x1="492.40" y1="333.50" x2="492.40" y2="340.90" stroke="#1a1a1a" stroke-width="1.1" />
<line x1="498.15" y1="333.50" x2="498.15" y2="337.40" stroke="#1a1a1a" stroke-width="0.95" />
<line x1="501.51" y1="333.50" x2="501.51" y2="337.40" stroke="#1a1a1a" stroke-width="0.95" />
<line x1="503.90" y1="333.50" x2="503.90" y2="337.40" stroke="#1a1a1a" stroke-width="0.95" />
<line x1="505.75" y1="333.50" x2="505.75" y2="337.40" stroke="#1a1a1a" stroke-width="0.95" />
<line x1="507.26" y1="333.50" x2="507.26" y2="337.40" stroke="#1a1a1a" stroke-width="0.95" />
<line x1="508.54" y1="333.50" x2="508.54" y2="337.40" stroke="#1a1a1a" stroke-width="0.95" />
<line x1="509.65" y1="333.50" x2="509.65" y2="337.40" stroke="#1a1a1a" stroke-width="0.95" />
<line x1="510.63" y1="333.50" x2="510.63" y2="337.40" stroke="#1a1a1a" stroke-width="0.95" />
<line x1="511.50" y1="333.50" x2="511.50" y2="340.90" stroke="#1a1a1a" stroke-width="1.1" />
<line x1="517.25" y1="333.50" x2="517.25" y2="337.40" stroke="#1a1a1a" stroke-width="0.95" />
<line x1="520.61" y1="333.50" x2="520.61" y2="337.40" stroke="#1a1a1a" stroke-width="0.95" />
<line x1="523.00" y1="333.50" x2="523.00" y2="337.40" stroke="#1a1a1a" stroke-width="0.95" />
<line x1="524.85" y1="333.50" x2="524.85" y2="337.40" stroke="#1a1a1a" stroke-width="0.95" />
<line x1="526.36" y1="333.50" x2="526.36" y2="337.40" stroke="#1a1a1a" stroke-width="0.95" />
<line x1="527.64" y1="333.50" x2="527.64" y2="337.40" stroke="#1a1a1a" stroke-width="0.95" />
<line x1="528.75" y1="333.50" x2="528.75" y2="337.40" stroke="#1a1a1a" stroke-width="0.95" />
<line x1="529.73" y1="333.50" x2="529.73" y2="337.40" stroke="#1a1a1a" stroke-width="0.95" />
<line x1="530.60" y1="333.50" x2="530.60" y2="340.90" stroke="#1a1a1a" stroke-width="1.1" />
<line x1="536.35" y1="333.50" x2="536.35" y2="337.40" stroke="#1a1a1a" stroke-width="0.95" />
<line x1="539.71" y1="333.50" x2="539.71" y2="337.40" stroke="#1a1a1a" stroke-width="0.95" />
<line x1="542.10" y1="333.50" x2="542.10" y2="337.40" stroke="#1a1a1a" stroke-width="0.95" />
<line x1="543.95" y1="333.50" x2="543.95" y2="337.40" stroke="#1a1a1a" stroke-width="0.95" />
<line x1="545.46" y1="333.50" x2="545.46" y2="337.40" stroke="#1a1a1a" stroke-width="0.95" />
<line x1="546.74" y1="333.50" x2="546.74" y2="337.40" stroke="#1a1a1a" stroke-width="0.95" />
<line x1="547.85" y1="333.50" x2="547.85" y2="337.40" stroke="#1a1a1a" stroke-width="0.95" />
<line x1="548.83" y1="333.50" x2="548.83" y2="337.40" stroke="#1a1a1a" stroke-width="0.95" />
<line x1="549.70" y1="333.50" x2="549.70" y2="340.90" stroke="#1a1a1a" stroke-width="1.1" />
<text y="352" font-size="10.2" text-anchor="middle" x="455.00">10<tspan font-size="7.5" dx="1.0" dy="-2.9">-3</tspan></text>
<text y="352" font-size="10.2" text-anchor="middle" x="474.10">10<tspan font-size="7.5" dx="1.0" dy="-2.9">-2</tspan></text>
<text y="352" font-size="10.2" text-anchor="middle" x="493.20">10<tspan font-size="7.5" dx="1.0" dy="-2.9">-1</tspan></text>
<text y="352" font-size="10.2" text-anchor="middle" x="512.30">10<tspan font-size="7.5" dx="1.0" dy="-2.9">0</tspan></text>
<text y="352" font-size="10.2" text-anchor="middle" x="531.40">10<tspan font-size="7.5" dx="1.0" dy="-2.9">1</tspan></text>
<text y="352" font-size="10.2" text-anchor="middle" x="550.50">10<tspan font-size="7.5" dx="1.0" dy="-2.9">2</tspan></text>
<text x="499.30" y="371.00" font-size="12.0" text-anchor="middle" font-weight="normal" >Molar ratio</text>
<text x="499.30" y="384.10" font-size="12.0" text-anchor="middle">(nb-hIgG<tspan font-size="8.6" dy="2.6">1</tspan><tspan dy="-2.6">/Api m 1)</tspan></text>
<text x="501.00" y="215.60" font-size="13.8" text-anchor="middle" font-weight="normal" >Patient N</text>
<path d="M454.60,319.50 L456.18,319.50 L457.76,319.50 L459.34,319.50 L460.92,319.50 L462.50,319.50 L464.08,319.50 L465.66,319.50 L467.24,319.50 L468.82,319.50 L470.40,319.50 L471.98,319.50 L473.56,319.50 L475.14,319.50 L476.72,319.50 L478.30,319.50 L479.88,319.50 L481.46,319.50 L483.04,319.50 L484.62,319.50 L486.20,319.50 L487.78,319.49 L489.36,319.49 L490.94,319.49 L492.52,319.49 L494.10,319.49 L495.68,319.49 L497.26,319.49 L498.84,319.48 L500.42,319.48 L502.00,319.48 L503.58,319.47 L505.16,319.47 L506.74,319.47 L508.32,319.46 L509.90,319.45 L511.48,319.45 L513.06,319.44 L514.64,319.43 L516.22,319.42 L517.80,319.40 L519.38,319.39 L520.96,319.37 L522.54,319.35 L524.12,319.33 L525.70,319.31 L527.28,319.28 L528.86,319.25 L530.44,319.22 L532.02,319.19 L533.60,319.15 L535.18,319.12 L536.76,319.08 L538.34,319.04 L539.92,319.00 L541.50,318.96 L543.08,318.92 L544.66,318.89 L546.24,318.85 L547.82,318.81 L549.40,318.78" fill="none" stroke="#3c2b5e" stroke-width="1.25"/>
<path d="M454.60,318.30 L456.18,318.30 L457.76,318.30 L459.34,318.30 L460.92,318.30 L462.50,318.30 L464.08,318.30 L465.66,318.30 L467.24,318.30 L468.82,318.30 L470.40,318.30 L471.98,318.30 L473.56,318.29 L475.14,318.29 L476.72,318.29 L478.30,318.29 L479.88,318.28 L481.46,318.28 L483.04,318.28 L484.62,318.27 L486.20,318.26 L487.78,318.25 L489.36,318.24 L490.94,318.22 L492.52,318.20 L494.10,318.17 L495.68,318.14 L497.26,318.10 L498.84,318.04 L500.42,317.98 L502.00,317.90 L503.58,317.80 L505.16,317.67 L506.74,317.52 L508.32,317.33 L509.90,317.11 L511.48,316.85 L513.06,316.54 L514.64,316.18 L516.22,315.79 L517.80,315.35 L519.38,314.87 L520.96,314.38 L522.54,313.88 L524.12,313.38 L525.70,312.90 L527.28,312.45 L528.86,312.04 L530.44,311.67 L532.02,311.35 L533.60,311.07 L535.18,310.83 L536.76,310.64 L538.34,310.47 L539.92,310.34 L541.50,310.23 L543.08,310.15 L544.66,310.07 L546.24,310.02 L547.82,309.97 L549.40,309.94" fill="none" stroke="#a9c5e8" stroke-width="1.25"/>
<path d="M454.60,318.70 L456.18,318.70 L457.76,318.70 L459.34,318.70 L460.92,318.70 L462.50,318.70 L464.08,318.70 L465.66,318.70 L467.24,318.70 L468.82,318.70 L470.40,318.70 L471.98,318.70 L473.56,318.70 L475.14,318.70 L476.72,318.70 L478.30,318.70 L479.88,318.70 L481.46,318.70 L483.04,318.70 L484.62,318.70 L486.20,318.70 L487.78,318.70 L489.36,318.70 L490.94,318.70 L492.52,318.70 L494.10,318.70 L495.68,318.70 L497.26,318.70 L498.84,318.70 L500.42,318.70 L502.00,318.70 L503.58,318.70 L505.16,318.70 L506.74,318.70 L508.32,318.70 L509.90,318.70 L511.48,318.70 L513.06,318.70 L514.64,318.70 L516.22,318.70 L517.80,318.70 L519.38,318.70 L520.96,318.70 L522.54,318.70 L524.12,318.70 L525.70,318.70 L527.28,318.70 L528.86,318.70 L530.44,318.70 L532.02,318.70 L533.60,318.70 L535.18,318.70 L536.76,318.70 L538.34,318.70 L539.92,318.70 L541.50,318.70 L543.08,318.70 L544.66,318.70 L546.24,318.70 L547.82,318.70 L549.40,318.70" fill="none" stroke="#8dc29c" stroke-width="1.25"/>
<path d="M454.60,317.06 L456.18,317.07 L457.76,317.08 L459.34,317.10 L460.92,317.12 L462.50,317.14 L464.08,317.17 L465.66,317.20 L467.24,317.24 L468.82,317.29 L470.40,317.35 L471.98,317.41 L473.56,317.49 L475.14,317.58 L476.72,317.68 L478.30,317.79 L479.88,317.92 L481.46,318.06 L483.04,318.21 L484.62,318.38 L486.20,318.55 L487.78,318.74 L489.36,318.92 L490.94,319.11 L492.52,319.30 L494.10,319.48 L495.68,319.66 L497.26,319.82 L498.84,319.97 L500.42,320.11 L502.00,320.23 L503.58,320.34 L505.16,320.44 L506.74,320.53 L508.32,320.60 L509.90,320.66 L511.48,320.72 L513.06,320.76 L514.64,320.80 L516.22,320.84 L517.80,320.86 L519.38,320.89 L520.96,320.90 L522.54,320.92 L524.12,320.93 L525.70,320.95 L527.28,320.95 L528.86,320.96 L530.44,320.97 L532.02,320.97 L533.60,320.98 L535.18,320.98 L536.76,320.99 L538.34,320.99 L539.92,320.99 L541.50,320.99 L543.08,320.99 L544.66,320.99 L546.24,321.00 L547.82,321.00 L549.40,321.00" fill="none" stroke="#3a86c8" stroke-width="1.25"/>
<path d="M454.60,319.20 L456.18,319.20 L457.76,319.20 L459.34,319.20 L460.92,319.20 L462.50,319.20 L464.08,319.20 L465.66,319.20 L467.24,319.20 L468.82,319.20 L470.40,319.20 L471.98,319.20 L473.56,319.20 L475.14,319.20 L476.72,319.20 L478.30,319.20 L479.88,319.20 L481.46,319.20 L483.04,319.20 L484.62,319.20 L486.20,319.20 L487.78,319.20 L489.36,319.21 L490.94,319.21 L492.52,319.21 L494.10,319.21 L495.68,319.21 L497.26,319.21 L498.84,319.21 L500.42,319.21 L502.00,319.22 L503.58,319.22 L505.16,319.22 L506.74,319.23 L508.32,319.23 L509.90,319.24 L511.48,319.24 L513.06,319.25 L514.64,319.26 L516.22,319.27 L517.80,319.28 L519.38,319.29 L520.96,319.30 L522.54,319.32 L524.12,319.34 L525.70,319.35 L527.28,319.38 L528.86,319.40 L530.44,319.42 L532.02,319.45 L533.60,319.48 L535.18,319.51 L536.76,319.54 L538.34,319.57 L539.92,319.60 L541.50,319.63 L543.08,319.66 L544.66,319.69 L546.24,319.72 L547.82,319.75 L549.40,319.78" fill="none" stroke="#14994a" stroke-width="1.25"/>
<circle cx="454.60" cy="319.00" r="2.75" fill="#000000"/>
<circle cx="473.60" cy="319.00" r="2.75" fill="#000000"/>
<circle cx="492.60" cy="319.50" r="2.75" fill="#000000"/>
<circle cx="511.60" cy="319.50" r="2.75" fill="#000000"/>
<circle cx="530.60" cy="319.00" r="2.75" fill="#000000"/>
<circle cx="549.40" cy="315.30" r="2.75" fill="#000000"/>
<polygon points="454.60,311.10 457.15,314.10 454.60,317.10 452.05,314.10" fill="#a9c5e8"/>
<polygon points="473.60,314.50 476.15,317.50 473.60,320.50 471.05,317.50" fill="#a9c5e8"/>
<polygon points="492.60,316.50 495.15,319.50 492.60,322.50 490.05,319.50" fill="#a9c5e8"/>
<polygon points="511.60,316.50 514.15,319.50 511.60,322.50 509.05,319.50" fill="#a9c5e8"/>
<polygon points="530.60,306.60 533.15,309.60 530.60,312.60 528.05,309.60" fill="#a9c5e8"/>
<polygon points="549.40,307.40 551.95,310.40 549.40,313.40 546.85,310.40" fill="#a9c5e8"/>
<polygon points="454.60,315.35 457.60,320.90 451.60,320.90" fill="#8dc29c"/>
<polygon points="473.60,315.35 476.60,320.90 470.60,320.90" fill="#8dc29c"/>
<polygon points="492.60,316.35 495.60,321.90 489.60,321.90" fill="#8dc29c"/>
<polygon points="511.60,317.75 514.60,323.30 508.60,323.30" fill="#8dc29c"/>
<polygon points="530.60,316.35 533.60,321.90 527.60,321.90" fill="#8dc29c"/>
<polygon points="549.40,315.35 552.40,320.90 546.40,320.90" fill="#8dc29c"/>
<rect x="451.80" y="313.30" width="5.60" height="5.60" fill="#3a86c8"/>
<rect x="470.80" y="312.80" width="5.60" height="5.60" fill="#3a86c8"/>
<rect x="489.80" y="318.60" width="5.60" height="5.60" fill="#3a86c8"/>
<rect x="508.80" y="317.70" width="5.60" height="5.60" fill="#3a86c8"/>
<rect x="527.80" y="318.10" width="5.60" height="5.60" fill="#3a86c8"/>
<rect x="546.60" y="319.70" width="5.60" height="5.60" fill="#3a86c8"/>
<circle cx="454.60" cy="319.30" r="2.75" fill="#14994a"/>
<circle cx="473.60" cy="320.40" r="2.75" fill="#14994a"/>
<circle cx="492.60" cy="320.40" r="2.75" fill="#14994a"/>
<circle cx="511.60" cy="319.30" r="2.75" fill="#14994a"/>
<circle cx="530.60" cy="318.50" r="2.75" fill="#14994a"/>
<circle cx="549.40" cy="322.50" r="2.75" fill="#14994a"/>
<text transform="translate(8.70,83.50) rotate(-90)" font-size="12.0" text-anchor="middle">Basophil activation (%)</text>
<text transform="translate(8.70,283.50) rotate(-90)" font-size="12.0" text-anchor="middle">Basophil activation (%)</text>
<line x1="561.00" y1="226.30" x2="580.00" y2="226.30" stroke="#14994a" stroke-width="1.05" />
<circle cx="570.50" cy="226.30" r="2.75" fill="#14994a"/>
<line x1="561.00" y1="244.20" x2="580.00" y2="244.20" stroke="#3a86c8" stroke-width="1.05" />
<rect x="567.70" y="241.40" width="5.60" height="5.60" fill="#3a86c8"/>
<line x1="561.00" y1="268.20" x2="580.00" y2="268.20" stroke="#8dc29c" stroke-width="1.05" />
<polygon points="570.50,265.05 573.50,270.60 567.50,270.60" fill="#8dc29c"/>
<line x1="561.00" y1="293.90" x2="580.00" y2="293.90" stroke="#a9c5e8" stroke-width="1.05" />
<polygon points="570.50,290.90 573.05,293.90 570.50,296.90 567.95,293.90" fill="#a9c5e8"/>
<line x1="561.00" y1="310.70" x2="580.00" y2="310.70" stroke="#3c2b5e" stroke-width="1.05" />
<circle cx="570.50" cy="310.70" r="2.75" fill="#000000"/>
<text x="589.7" y="229" font-size="11.8">AM1-1 hIgG<tspan font-size="8.6" dy="2.6">1</tspan></text>
<text x="589.7" y="247" font-size="11.8">AM1-4 hIgG<tspan font-size="8.6" dy="2.6">1</tspan></text>
<text x="589.7" y="264" font-size="11.8">AM1-1 hIgG<tspan font-size="8.6" dy="2.6">1</tspan><tspan dy="-2.6"> +</tspan></text>
<text x="589.7" y="278" font-size="11.8">AM1-4 hIgG<tspan font-size="8.6" dy="2.6">1</tspan></text>
<text x="589.7" y="297" font-size="11.8">AM1B-1-4 hIgG<tspan font-size="8.6" dy="2.6">1</tspan></text>
<text x="589.70" y="315.00" font-size="11.8" text-anchor="start" font-weight="normal" >Isotype control</text>
<text x="0.30" y="423.90" font-size="14" text-anchor="start" font-weight="bold" >b</text>
<text x="190.70" y="423.90" font-size="14" text-anchor="start" font-weight="bold" >c</text>
<line x1="43.50" y1="458.45" x2="43.50" y2="595.15" stroke="#1a1a1a" stroke-width="1.1" />
<line x1="36.70" y1="594.60" x2="43.50" y2="594.60" stroke="#1a1a1a" stroke-width="1.1" />
<text x="34.90" y="598.50" font-size="10.4" text-anchor="end" font-weight="normal" >0</text>
<line x1="36.70" y1="567.48" x2="43.50" y2="567.48" stroke="#1a1a1a" stroke-width="1.1" />
<text x="34.90" y="571.38" font-size="10.4" text-anchor="end" font-weight="normal" >20</text>
<line x1="36.70" y1="540.36" x2="43.50" y2="540.36" stroke="#1a1a1a" stroke-width="1.1" />
<text x="34.90" y="544.26" font-size="10.4" text-anchor="end" font-weight="normal" >40</text>
<line x1="36.70" y1="513.24" x2="43.50" y2="513.24" stroke="#1a1a1a" stroke-width="1.1" />
<text x="34.90" y="517.14" font-size="10.4" text-anchor="end" font-weight="normal" >60</text>
<line x1="36.70" y1="486.12" x2="43.50" y2="486.12" stroke="#1a1a1a" stroke-width="1.1" />
<text x="34.90" y="490.02" font-size="10.4" text-anchor="end" font-weight="normal" >80</text>
<line x1="36.70" y1="459.00" x2="43.50" y2="459.00" stroke="#1a1a1a" stroke-width="1.1" />
<text x="34.90" y="462.90" font-size="10.4" text-anchor="end" font-weight="normal" >100</text>
<line x1="42.95" y1="595.00" x2="139.30" y2="595.00" stroke="#1a1a1a" stroke-width="1.2" />
<line x1="71.10" y1="594.60" x2="71.10" y2="601.40" stroke="#1a1a1a" stroke-width="1.1" />
<line x1="112.30" y1="594.60" x2="112.30" y2="601.40" stroke="#1a1a1a" stroke-width="1.1" />
<text x="90.50" y="423.90" font-size="13.8" text-anchor="middle" font-weight="normal" >Api m 1</text>
<path d="M71.10,456.80 V446.30 H112.30 V456.80" fill="none" stroke="#1a1a1a" stroke-width="1.1"/>
<path d="M86.40,437.60 L86.40,430.40 M83.28,435.80 L89.52,432.20 M83.28,432.20 L89.52,435.80 " stroke="#000" stroke-width="1.5" stroke-linecap="round" fill="none"/>
<circle cx="86.40" cy="434.00" r="1.6" fill="#000"/>
<path d="M96.80,437.60 L96.80,430.40 M93.68,435.80 L99.92,432.20 M93.68,432.20 L99.92,435.80 " stroke="#000" stroke-width="1.5" stroke-linecap="round" fill="none"/>
<circle cx="96.80" cy="434.00" r="1.6" fill="#000"/>
<line x1="71.10" y1="466.32" x2="112.30" y2="467.54" stroke="#000" stroke-width="1.2" />
<line x1="71.10" y1="480.56" x2="112.30" y2="512.56" stroke="#000" stroke-width="1.2" />
<line x1="71.10" y1="504.02" x2="112.30" y2="555.95" stroke="#000" stroke-width="1.2" />
<line x1="71.10" y1="513.38" x2="112.30" y2="529.65" stroke="#000" stroke-width="1.2" />
<line x1="71.10" y1="537.51" x2="112.30" y2="561.65" stroke="#000" stroke-width="1.2" />
<line x1="71.10" y1="539.68" x2="112.30" y2="555.55" stroke="#000" stroke-width="1.2" />
<line x1="71.10" y1="540.77" x2="112.30" y2="574.67" stroke="#000" stroke-width="1.2" />
<line x1="71.10" y1="547.41" x2="112.30" y2="556.63" stroke="#000" stroke-width="1.2" />
<line x1="71.10" y1="556.36" x2="112.30" y2="592.29" stroke="#000" stroke-width="1.2" />
<line x1="71.10" y1="570.46" x2="112.30" y2="565.85" stroke="#000" stroke-width="1.2" />
<circle cx="71.10" cy="466.32" r="3.55" fill="#000"/>
<circle cx="71.10" cy="480.56" r="3.55" fill="#000"/>
<circle cx="71.10" cy="504.02" r="3.55" fill="#000"/>
<circle cx="71.10" cy="513.38" r="3.55" fill="#000"/>
<circle cx="71.10" cy="537.51" r="3.55" fill="#000"/>
<circle cx="71.10" cy="539.68" r="3.55" fill="#000"/>
<circle cx="71.10" cy="540.77" r="3.55" fill="#000"/>
<circle cx="71.10" cy="547.41" r="3.55" fill="#000"/>
<circle cx="71.10" cy="556.36" r="3.55" fill="#000"/>
<circle cx="71.10" cy="570.46" r="3.55" fill="#000"/>
<circle cx="112.30" cy="467.54" r="3.3" fill="#a3c0e3" stroke="#151515" stroke-width="1.0"/>
<circle cx="112.30" cy="512.56" r="3.3" fill="#a3c0e3" stroke="#151515" stroke-width="1.0"/>
<circle cx="112.30" cy="555.95" r="3.3" fill="#a3c0e3" stroke="#151515" stroke-width="1.0"/>
<circle cx="112.30" cy="529.65" r="3.3" fill="#a3c0e3" stroke="#151515" stroke-width="1.0"/>
<circle cx="112.30" cy="555.55" r="3.3" fill="#a3c0e3" stroke="#151515" stroke-width="1.0"/>
<circle cx="112.30" cy="574.67" r="3.3" fill="#a3c0e3" stroke="#151515" stroke-width="1.0"/>
<circle cx="112.30" cy="556.63" r="3.3" fill="#a3c0e3" stroke="#151515" stroke-width="1.0"/>
<circle cx="112.30" cy="592.29" r="3.3" fill="#a3c0e3" stroke="#151515" stroke-width="1.0"/>
<circle cx="112.30" cy="565.85" r="3.3" fill="#a3c0e3" stroke="#151515" stroke-width="1.0"/>
<circle cx="112.30" cy="561.65" r="3.3" fill="#a3c0e3" stroke="#151515" stroke-width="1.0"/>
<text transform="translate(74.60,612.60) rotate(-45)" font-size="12" text-anchor="end">Isotype control</text>
<text transform="translate(115.80,612.60) rotate(-45)" font-size="12" text-anchor="end">AM1B-1-4 IgG<tspan font-size="8.6" dy="2.6">1</tspan></text>
<line x1="233.50" y1="458.45" x2="233.50" y2="595.15" stroke="#1a1a1a" stroke-width="1.1" />
<line x1="226.70" y1="594.60" x2="233.50" y2="594.60" stroke="#1a1a1a" stroke-width="1.1" />
<text x="224.90" y="598.50" font-size="10.4" text-anchor="end" font-weight="normal" >0</text>
<line x1="226.70" y1="567.48" x2="233.50" y2="567.48" stroke="#1a1a1a" stroke-width="1.1" />
<text x="224.90" y="571.38" font-size="10.4" text-anchor="end" font-weight="normal" >20</text>
<line x1="226.70" y1="540.36" x2="233.50" y2="540.36" stroke="#1a1a1a" stroke-width="1.1" />
<text x="224.90" y="544.26" font-size="10.4" text-anchor="end" font-weight="normal" >40</text>
<line x1="226.70" y1="513.24" x2="233.50" y2="513.24" stroke="#1a1a1a" stroke-width="1.1" />
<text x="224.90" y="517.14" font-size="10.4" text-anchor="end" font-weight="normal" >60</text>
<line x1="226.70" y1="486.12" x2="233.50" y2="486.12" stroke="#1a1a1a" stroke-width="1.1" />
<text x="224.90" y="490.02" font-size="10.4" text-anchor="end" font-weight="normal" >80</text>
<line x1="226.70" y1="459.00" x2="233.50" y2="459.00" stroke="#1a1a1a" stroke-width="1.1" />
<text x="224.90" y="462.90" font-size="10.4" text-anchor="end" font-weight="normal" >100</text>
<line x1="232.95" y1="595.00" x2="329.60" y2="595.00" stroke="#1a1a1a" stroke-width="1.2" />
<line x1="260.70" y1="594.60" x2="260.70" y2="601.40" stroke="#1a1a1a" stroke-width="1.1" />
<line x1="301.80" y1="594.60" x2="301.80" y2="601.40" stroke="#1a1a1a" stroke-width="1.1" />
<text x="280.00" y="423.90" font-size="13.8" text-anchor="middle" font-weight="normal" >Api m 1</text>
<path d="M260.70,478.10 V468.30 H301.80 V478.10" fill="none" stroke="#1a1a1a" stroke-width="1.1"/>
<path d="M281.10,460.30 L281.10,453.10 M277.98,458.50 L284.22,454.90 M277.98,454.90 L284.22,458.50 " stroke="#000" stroke-width="1.5" stroke-linecap="round" fill="none"/>
<circle cx="281.10" cy="456.70" r="1.6" fill="#000"/>
<line x1="260.70" y1="488.29" x2="301.80" y2="535.61" stroke="#000" stroke-width="1.2" />
<line x1="260.70" y1="493.58" x2="301.80" y2="571.68" stroke="#000" stroke-width="1.2" />
<line x1="260.70" y1="494.39" x2="301.80" y2="580.36" stroke="#000" stroke-width="1.2" />
<line x1="260.70" y1="515.27" x2="301.80" y2="542.26" stroke="#000" stroke-width="1.2" />
<circle cx="260.70" cy="488.29" r="3.55" fill="#000"/>
<circle cx="260.70" cy="493.58" r="3.55" fill="#000"/>
<circle cx="260.70" cy="494.39" r="3.55" fill="#000"/>
<circle cx="260.70" cy="515.27" r="3.55" fill="#000"/>
<circle cx="301.80" cy="535.61" r="3.3" fill="#a3c0e3" stroke="#151515" stroke-width="1.0"/>
<circle cx="301.80" cy="571.68" r="3.3" fill="#a3c0e3" stroke="#151515" stroke-width="1.0"/>
<circle cx="301.80" cy="580.36" r="3.3" fill="#a3c0e3" stroke="#151515" stroke-width="1.0"/>
<circle cx="301.80" cy="542.26" r="3.3" fill="#a3c0e3" stroke="#151515" stroke-width="1.0"/>
<text transform="translate(264.20,612.60) rotate(-45)" font-size="12" text-anchor="end">Isotype control</text>
<text transform="translate(305.30,612.60) rotate(-45)" font-size="12" text-anchor="end">AM1B-1-4 IgG<tspan font-size="8.6" dy="2.6">1</tspan></text>
<line x1="370.90" y1="458.45" x2="370.90" y2="595.15" stroke="#1a1a1a" stroke-width="1.1" />
<line x1="364.10" y1="594.60" x2="370.90" y2="594.60" stroke="#1a1a1a" stroke-width="1.1" />
<text x="362.30" y="598.50" font-size="10.4" text-anchor="end" font-weight="normal" >0</text>
<line x1="364.10" y1="567.48" x2="370.90" y2="567.48" stroke="#1a1a1a" stroke-width="1.1" />
<text x="362.30" y="571.38" font-size="10.4" text-anchor="end" font-weight="normal" >20</text>
<line x1="364.10" y1="540.36" x2="370.90" y2="540.36" stroke="#1a1a1a" stroke-width="1.1" />
<text x="362.30" y="544.26" font-size="10.4" text-anchor="end" font-weight="normal" >40</text>
<line x1="364.10" y1="513.24" x2="370.90" y2="513.24" stroke="#1a1a1a" stroke-width="1.1" />
<text x="362.30" y="517.14" font-size="10.4" text-anchor="end" font-weight="normal" >60</text>
<line x1="364.10" y1="486.12" x2="370.90" y2="486.12" stroke="#1a1a1a" stroke-width="1.1" />
<text x="362.30" y="490.02" font-size="10.4" text-anchor="end" font-weight="normal" >80</text>
<line x1="364.10" y1="459.00" x2="370.90" y2="459.00" stroke="#1a1a1a" stroke-width="1.1" />
<text x="362.30" y="462.90" font-size="10.4" text-anchor="end" font-weight="normal" >100</text>
<line x1="370.35" y1="595.00" x2="467.00" y2="595.00" stroke="#1a1a1a" stroke-width="1.2" />
<line x1="398.30" y1="594.60" x2="398.30" y2="601.40" stroke="#1a1a1a" stroke-width="1.1" />
<line x1="439.40" y1="594.60" x2="439.40" y2="601.40" stroke="#1a1a1a" stroke-width="1.1" />
<text x="422.20" y="423.90" font-size="13.8" text-anchor="middle" font-weight="normal" >HBV</text>
<path d="M398.30,462.70 V452.70 H439.40 V462.70" fill="none" stroke="#1a1a1a" stroke-width="1.1"/>
<path d="M419.10,444.60 L419.10,437.40 M415.98,442.80 L422.22,439.20 M415.98,439.20 L422.22,442.80 " stroke="#000" stroke-width="1.5" stroke-linecap="round" fill="none"/>
<circle cx="419.10" cy="441.00" r="1.6" fill="#000"/>
<line x1="398.30" y1="472.70" x2="439.40" y2="485.98" stroke="#000" stroke-width="1.2" />
<line x1="398.30" y1="480.70" x2="439.40" y2="547.28" stroke="#000" stroke-width="1.2" />
<line x1="398.30" y1="491.68" x2="439.40" y2="532.90" stroke="#000" stroke-width="1.2" />
<line x1="398.30" y1="500.22" x2="439.40" y2="534.12" stroke="#000" stroke-width="1.2" />
<circle cx="398.30" cy="472.70" r="3.55" fill="#000"/>
<circle cx="398.30" cy="480.70" r="3.55" fill="#000"/>
<circle cx="398.30" cy="491.68" r="3.55" fill="#000"/>
<circle cx="398.30" cy="500.22" r="3.55" fill="#000"/>
<circle cx="439.40" cy="485.98" r="3.3" fill="#a3c0e3" stroke="#151515" stroke-width="1.0"/>
<circle cx="439.40" cy="547.28" r="3.3" fill="#a3c0e3" stroke="#151515" stroke-width="1.0"/>
<circle cx="439.40" cy="532.90" r="3.3" fill="#a3c0e3" stroke="#151515" stroke-width="1.0"/>
<circle cx="439.40" cy="534.12" r="3.3" fill="#a3c0e3" stroke="#151515" stroke-width="1.0"/>
<text transform="translate(401.80,612.60) rotate(-45)" font-size="12" text-anchor="end">Isotype control</text>
<text transform="translate(442.90,612.60) rotate(-45)" font-size="12" text-anchor="end">AM1B-1-4 IgG<tspan font-size="8.6" dy="2.6">1</tspan></text>
<text transform="translate(10.20,526.40) rotate(-90)" font-size="12.0" text-anchor="middle">Basophil activation (%)</text>
<text transform="translate(199.20,526.40) rotate(-90)" font-size="12.0" text-anchor="middle">Basophil activation (%)</text>
</svg>
</body></html>
